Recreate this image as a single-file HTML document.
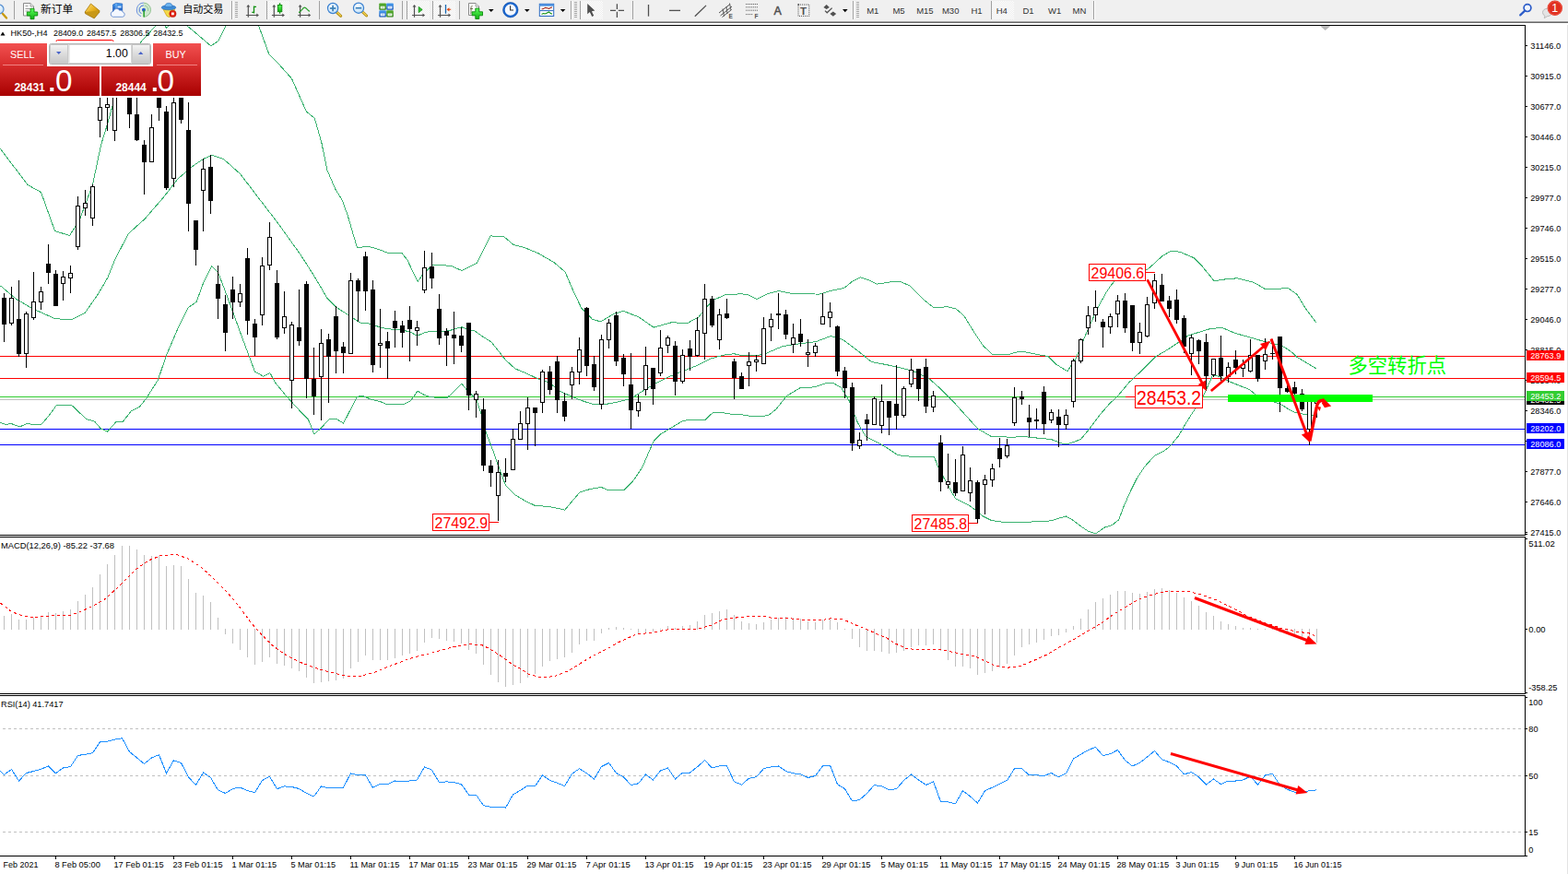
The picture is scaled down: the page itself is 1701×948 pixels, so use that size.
<!DOCTYPE html><html><head><meta charset="utf-8"><title>HK50-,H4</title><style>
html,body{margin:0;padding:0;background:#fff}body{width:1701px;height:948px;overflow:hidden;position:relative;font-family:"Liberation Sans",sans-serif}
svg{position:absolute;left:0;top:0;display:block}text{font-family:"Liberation Sans",sans-serif}
.ax{font-size:9.5px;fill:#000}.tf{font-size:9.5px;fill:#333}
.cjk{font-family:"Liberation Sans","Noto Sans CJK SC",sans-serif}
</style></head><body>
<svg width="1701" height="948" viewBox="0 0 1701 948">
<rect x="0" y="0" width="1701" height="948" fill="#fff"/>
<defs><clipPath id="cm"><rect x="0" y="28" width="1654" height="552"/></clipPath>
<clipPath id="cmacd"><rect x="0" y="583" width="1654" height="169"/></clipPath>
<clipPath id="crsi"><rect x="0" y="755" width="1654" height="172"/></clipPath></defs>
<g clip-path="url(#cm)" shape-rendering="crispEdges">
<rect x="0" y="433" width="1654" height="1" fill="#C0C0C0"/>
<rect x="0" y="430" width="1654" height="1" fill="#32CD32"/>
<rect x="0" y="386" width="1654" height="1" fill="#FF0000"/>
<rect x="0" y="410" width="1654" height="1" fill="#FF0000"/>
<rect x="0" y="465" width="1654" height="1" fill="#0000FF"/>
<rect x="0" y="482" width="1654" height="1" fill="#0000FF"/>
<polyline points="0.5,161.5 30.0,200.5 44.5,208.5 59.5,250.5 75.5,255.5 86.1,239.0 100.5,200.5 109.5,157.5 117.1,132.7 121.8,115.7 125.5,106.5 135.5,85.5 153.2,45.0 169.3,27.5" fill="none" stroke="#3CB371" stroke-width="1" />
<polyline points="178.5,27.5 180.5,30.0 183.5,27.5" fill="none" stroke="#3CB371" stroke-width="1" />
<polyline points="202.5,27.5 215.5,38.5 228.7,49.8 236.7,44.5 245.3,27.5" fill="none" stroke="#3CB371" stroke-width="1" />
<polyline points="280.5,27.5 291.8,58.7 301.3,68.2 316.5,85.3 324.1,102.4 332.5,121.3 341.2,128.0 348.8,154.5 354.9,184.4 363.8,205.1 371.1,216.9 377.0,233.1 387.4,268.5 396.2,267.7 400.5,267.7 409.4,270.0 421.2,274.5 435.9,274.5 441.8,281.8 453.1,305.5 459.5,296.5 469.9,287.2 489.1,288.3 500.9,293.5 517.2,285.4 531.9,255.9 546.7,256.7 557.0,265.5 568.8,268.5 583.5,274.5 601.3,284.8 613.1,295.1 622.0,315.8 630.9,334.5 642.5,346.2 651.5,348.9 666.3,340.3 676.5,337.4 692.9,343.9 709.1,355.1 728.3,349.8 746.0,350.4 757.9,343.9 772.5,326.1 787.4,319.5 805.1,318.8 812.3,320.0 821.2,324.5 833.0,318.5 844.8,315.5 859.5,318.5 889.1,319.1 900.9,315.5 915.7,312.5 924.5,305.3 933.4,300.8 942.3,303.8 951.1,308.2 965.9,305.9 977.7,305.9 986.5,309.7 1001.3,324.5 1013.1,333.9 1027.9,332.7 1036.8,334.8 1045.5,342.2 1057.5,361.5 1066.3,374.7 1076.5,384.5 1092.9,385.0 1101.7,382.1 1110.5,381.5 1125.4,384.5 1137.2,386.5 1146.0,395.3 1157.9,402.7 1166.7,389.5 1178.5,361.4 1190.3,334.8 1200.5,316.5 1204.5,310.5 1209.0,305.0 1212.5,300.5 1220.5,297.5 1228.5,296.5 1236.5,295.5 1244.5,292.5 1252.5,285.5 1260.5,278.0 1269.9,272.3 1280.2,273.2 1295.0,279.7 1303.9,288.5 1317.2,304.8 1330.5,302.7 1342.3,301.8 1360.0,306.3 1371.8,313.1 1383.5,313.7 1396.9,312.2 1407.2,319.5 1416.1,334.3 1427.9,350.0" fill="none" stroke="#3CB371" stroke-width="1" />
<polyline points="0.5,310.0 18.2,324.8 35.9,335.1 59.5,345.5 77.3,347.0 92.1,339.5 106.5,318.9 117.2,300.5 124.5,282.0 139.3,253.5 157.0,237.5 177.5,213.9 192.5,194.5 207.2,181.5 220.5,172.5 229.5,168.2 242.5,172.5 260.5,188.5 281.1,215.5 301.5,242.0 325.5,275.5 340.1,298.2 354.9,323.3 365.2,333.5 381.5,344.0 390.3,349.9 402.1,351.2 412.3,355.1 420.5,356.8 436.5,357.8 446.5,360.8 452.5,364.4 460.5,360.8 466.5,359.4 480.5,359.8 490.5,357.8 500.7,354.7 508.7,357.8 514.7,358.8 524.7,365.8 532.8,370.8 540.8,380.8 548.8,390.8 558.8,399.9 570.9,404.9 583.5,410.9 595.5,414.7 607.2,424.2 622.0,431.0 633.8,435.5 645.5,439.0 657.5,438.4 672.2,435.5 684.0,432.5 695.8,425.1 710.5,416.2 725.4,408.8 740.1,402.9 754.9,397.0 769.7,389.5 784.5,385.2 796.2,383.7 806.5,386.0 815.3,385.5 828.7,384.7 834.7,381.7 848.8,375.7 860.8,373.7 884.8,370.7 892.9,367.7 900.9,364.7 906.9,365.7 914.9,368.7 926.9,377.7 937.0,385.7 945.2,392.4 960.0,395.3 974.7,398.3 989.5,402.1 1007.2,410.1 1019.0,420.5 1033.8,435.2 1048.5,451.5 1060.4,464.7 1075.2,473.5 1098.8,474.2 1110.5,473.5 1125.4,475.1 1140.1,476.5 1151.9,481.0 1157.9,481.9 1172.5,476.5 1180.5,466.9 1193.8,449.2 1202.5,439.2 1213.7,428.1 1224.8,414.8 1238.1,402.5 1253.5,387.1 1264.5,380.5 1274.3,374.2 1289.1,363.9 1303.5,359.5 1314.2,356.2 1326.5,355.7 1339.8,361.4 1356.9,366.2 1373.0,370.9 1385.4,373.7 1391.1,375.2 1400.5,381.3 1407.2,387.5 1427.9,399.9" fill="none" stroke="#3CB371" stroke-width="1" />
<polyline points="0.5,458.5 6.5,460.5 12.3,459.5 21.2,463.0 28.5,459.8 44.8,460.5 53.5,450.3 61.0,440.0 77.3,439.1 93.5,454.5 102.5,457.1 109.5,465.1 116.5,468.0 126.0,457.5 133.5,457.1 142.3,445.9 151.1,441.5 158.5,432.5 171.5,411.9 180.5,385.3 192.5,357.3 204.3,333.5 213.1,327.5 220.5,307.1 229.5,288.8 236.5,295.3 245.5,318.9 260.5,360.2 276.5,403.1 285.5,408.1 292.9,404.5 298.5,414.9 310.5,429.5 325.5,445.9 334.2,454.5 341.0,471.0 349.0,463.5 357.5,454.5 365.2,454.5 372.5,459.2 387.5,430.2 393.3,429.5 402.1,433.1 412.3,435.5 419.0,438.5 437.5,438.5 444.9,435.3 453.1,424.2 459.5,428.0 464.7,429.9 474.5,431.5 485.5,431.1 494.3,423.0 500.9,416.2 506.8,423.5 516.5,432.8 521.5,447.5 527.5,469.9 535.1,489.5 541.2,506.9 548.5,526.5 558.5,536.5 568.5,542.7 580.5,548.5 595.5,549.4 612.8,553.1 620.3,544.0 628.9,534.1 640.0,530.5 652.4,528.5 659.5,531.5 677.0,531.5 686.9,521.5 696.8,506.9 704.2,489.5 709.1,478.5 716.5,471.1 726.5,464.9 741.2,456.3 753.5,455.1 764.7,455.8 773.3,447.5 783.2,447.5 795.5,449.5 800.5,449.1 815.3,451.5 833.0,450.9 841.8,444.1 853.5,429.3 868.5,420.5 883.2,419.9 895.0,416.0 903.9,415.5 912.7,420.5 921.5,435.2 930.5,458.8 939.3,473.5 954.1,481.0 960.5,484.7 973.2,493.2 981.7,494.9 1013.5,495.7 1017.5,505.9 1024.0,518.5 1030.5,530.2 1036.5,540.8 1051.5,548.2 1060.0,554.5 1066.3,559.9 1074.8,564.1 1083.3,565.8 1098.1,566.8 1112.9,566.2 1136.2,565.5 1142.5,564.1 1156.3,559.9 1163.7,564.1 1172.1,570.5 1180.5,576.2 1188.5,578.9 1193.3,575.7 1198.5,571.9 1206.0,569.8 1213.5,564.1 1218.7,550.3 1225.1,535.5 1233.5,518.5 1242.0,505.9 1252.5,494.3 1263.1,489.0 1269.1,484.2 1278.0,473.5 1284.5,462.5 1291.2,451.4 1297.9,441.4 1304.5,431.5 1310.1,419.3 1315.5,407.1 1322.2,408.2 1333.3,413.7 1344.4,418.2 1355.5,422.5 1362.1,428.1 1375.5,433.5 1390.9,439.2 1395.5,442.5 1404.8,447.5 1418.3,449.9 1423.7,450.7 1427.5,448.5" fill="none" stroke="#3CB371" stroke-width="1" />
<rect x="4" y="318" width="1" height="53" fill="#000"/>
<rect x="2" y="323" width="5" height="29" fill="#000"/>
<rect x="12" y="311" width="1" height="42" fill="#000"/>
<rect x="10" y="323" width="5" height="28" fill="#000"/>
<rect x="11" y="324" width="3" height="26" fill="#fff"/>
<rect x="20" y="304" width="1" height="83" fill="#000"/>
<rect x="18" y="346" width="5" height="38" fill="#000"/>
<rect x="28" y="338" width="1" height="61" fill="#000"/>
<rect x="26" y="340" width="5" height="44" fill="#000"/>
<rect x="27" y="341" width="3" height="42" fill="#fff"/>
<rect x="36" y="295" width="1" height="52" fill="#000"/>
<rect x="34" y="327" width="5" height="18" fill="#000"/>
<rect x="35" y="328" width="3" height="16" fill="#fff"/>
<rect x="44" y="311" width="1" height="25" fill="#000"/>
<rect x="42" y="316" width="5" height="12" fill="#000"/>
<rect x="43" y="317" width="3" height="10" fill="#fff"/>
<rect x="52" y="265" width="1" height="43" fill="#000"/>
<rect x="50" y="286" width="5" height="10" fill="#000"/>
<rect x="60" y="293" width="1" height="39" fill="#000"/>
<rect x="58" y="297" width="5" height="35" fill="#000"/>
<rect x="68" y="294" width="1" height="32" fill="#000"/>
<rect x="66" y="300" width="5" height="8" fill="#000"/>
<rect x="67" y="301" width="3" height="6" fill="#fff"/>
<rect x="76" y="288" width="1" height="30" fill="#000"/>
<rect x="74" y="296" width="5" height="6" fill="#000"/>
<rect x="75" y="297" width="3" height="4" fill="#fff"/>
<rect x="84" y="213" width="1" height="58" fill="#000"/>
<rect x="82" y="223" width="5" height="45" fill="#000"/>
<rect x="83" y="224" width="3" height="43" fill="#fff"/>
<rect x="92" y="206" width="1" height="28" fill="#000"/>
<rect x="90" y="220" width="5" height="6" fill="#000"/>
<rect x="91" y="221" width="3" height="4" fill="#fff"/>
<rect x="100" y="200" width="1" height="45" fill="#000"/>
<rect x="98" y="202" width="5" height="35" fill="#000"/>
<rect x="99" y="203" width="3" height="33" fill="#fff"/>
<rect x="108" y="100" width="1" height="49" fill="#000"/>
<rect x="106" y="116" width="5" height="15" fill="#000"/>
<rect x="107" y="117" width="3" height="13" fill="#fff"/>
<rect x="116" y="100" width="1" height="42" fill="#000"/>
<rect x="114" y="113" width="5" height="4" fill="#000"/>
<rect x="115" y="114" width="3" height="2" fill="#fff"/>
<rect x="124" y="90" width="1" height="63" fill="#000"/>
<rect x="122" y="95" width="5" height="47" fill="#000"/>
<rect x="123" y="96" width="3" height="45" fill="#fff"/>
<rect x="132" y="70" width="1" height="33" fill="#000"/>
<rect x="130" y="75" width="5" height="24" fill="#000"/>
<rect x="131" y="76" width="3" height="22" fill="#fff"/>
<rect x="140" y="80" width="1" height="59" fill="#000"/>
<rect x="138" y="85" width="5" height="39" fill="#000"/>
<rect x="148" y="100" width="1" height="53" fill="#000"/>
<rect x="146" y="124" width="5" height="28" fill="#000"/>
<rect x="156" y="152" width="1" height="59" fill="#000"/>
<rect x="154" y="157" width="5" height="19" fill="#000"/>
<rect x="164" y="124" width="1" height="52" fill="#000"/>
<rect x="162" y="138" width="5" height="38" fill="#000"/>
<rect x="163" y="139" width="3" height="36" fill="#fff"/>
<rect x="172" y="85" width="1" height="46" fill="#000"/>
<rect x="170" y="90" width="5" height="27" fill="#000"/>
<rect x="180" y="115" width="1" height="91" fill="#000"/>
<rect x="178" y="121" width="5" height="83" fill="#000"/>
<rect x="188" y="100" width="1" height="103" fill="#000"/>
<rect x="186" y="111" width="5" height="83" fill="#000"/>
<rect x="187" y="112" width="3" height="81" fill="#fff"/>
<rect x="196" y="85" width="1" height="49" fill="#000"/>
<rect x="194" y="90" width="5" height="40" fill="#000"/>
<rect x="204" y="111" width="1" height="140" fill="#000"/>
<rect x="202" y="141" width="5" height="80" fill="#000"/>
<rect x="212" y="239" width="1" height="49" fill="#000"/>
<rect x="210" y="239" width="5" height="32" fill="#000"/>
<rect x="220" y="172" width="1" height="79" fill="#000"/>
<rect x="218" y="183" width="5" height="24" fill="#000"/>
<rect x="219" y="184" width="3" height="22" fill="#fff"/>
<rect x="228" y="168" width="1" height="64" fill="#000"/>
<rect x="226" y="181" width="5" height="37" fill="#000"/>
<rect x="236" y="288" width="1" height="58" fill="#000"/>
<rect x="234" y="308" width="5" height="16" fill="#000"/>
<rect x="244" y="320" width="1" height="61" fill="#000"/>
<rect x="242" y="330" width="5" height="31" fill="#000"/>
<rect x="252" y="300" width="1" height="46" fill="#000"/>
<rect x="250" y="314" width="5" height="14" fill="#000"/>
<rect x="260" y="308" width="1" height="25" fill="#000"/>
<rect x="258" y="318" width="5" height="10" fill="#000"/>
<rect x="259" y="319" width="3" height="8" fill="#fff"/>
<rect x="268" y="269" width="1" height="94" fill="#000"/>
<rect x="266" y="280" width="5" height="68" fill="#000"/>
<rect x="276" y="346" width="1" height="40" fill="#000"/>
<rect x="274" y="351" width="5" height="15" fill="#000"/>
<rect x="284" y="279" width="1" height="74" fill="#000"/>
<rect x="282" y="288" width="5" height="54" fill="#000"/>
<rect x="283" y="289" width="3" height="52" fill="#fff"/>
<rect x="292" y="241" width="1" height="52" fill="#000"/>
<rect x="290" y="257" width="5" height="31" fill="#000"/>
<rect x="291" y="258" width="3" height="29" fill="#fff"/>
<rect x="300" y="293" width="1" height="75" fill="#000"/>
<rect x="298" y="307" width="5" height="59" fill="#000"/>
<rect x="308" y="316" width="1" height="46" fill="#000"/>
<rect x="306" y="343" width="5" height="13" fill="#000"/>
<rect x="307" y="344" width="3" height="11" fill="#fff"/>
<rect x="316" y="349" width="1" height="94" fill="#000"/>
<rect x="314" y="352" width="5" height="61" fill="#000"/>
<rect x="315" y="353" width="3" height="59" fill="#fff"/>
<rect x="324" y="314" width="1" height="61" fill="#000"/>
<rect x="322" y="355" width="5" height="15" fill="#000"/>
<rect x="332" y="305" width="1" height="127" fill="#000"/>
<rect x="330" y="308" width="5" height="103" fill="#000"/>
<rect x="340" y="377" width="1" height="73" fill="#000"/>
<rect x="338" y="411" width="5" height="19" fill="#000"/>
<rect x="348" y="357" width="1" height="99" fill="#000"/>
<rect x="346" y="372" width="5" height="37" fill="#000"/>
<rect x="347" y="373" width="3" height="35" fill="#fff"/>
<rect x="356" y="362" width="1" height="75" fill="#000"/>
<rect x="354" y="368" width="5" height="19" fill="#000"/>
<rect x="364" y="332" width="1" height="73" fill="#000"/>
<rect x="362" y="343" width="5" height="38" fill="#000"/>
<rect x="372" y="371" width="1" height="34" fill="#000"/>
<rect x="370" y="376" width="5" height="7" fill="#000"/>
<rect x="380" y="296" width="1" height="88" fill="#000"/>
<rect x="378" y="304" width="5" height="80" fill="#000"/>
<rect x="379" y="305" width="3" height="78" fill="#fff"/>
<rect x="388" y="302" width="1" height="47" fill="#000"/>
<rect x="386" y="304" width="5" height="12" fill="#000"/>
<rect x="396" y="273" width="1" height="64" fill="#000"/>
<rect x="394" y="278" width="5" height="38" fill="#000"/>
<rect x="404" y="304" width="1" height="100" fill="#000"/>
<rect x="402" y="314" width="5" height="82" fill="#000"/>
<rect x="412" y="335" width="1" height="64" fill="#000"/>
<rect x="410" y="372" width="5" height="3" fill="#000"/>
<rect x="411" y="373" width="3" height="1" fill="#fff"/>
<rect x="420" y="360" width="1" height="51" fill="#000"/>
<rect x="418" y="370" width="5" height="8" fill="#000"/>
<rect x="428" y="337" width="1" height="40" fill="#000"/>
<rect x="426" y="348" width="5" height="8" fill="#000"/>
<rect x="436" y="348" width="1" height="29" fill="#000"/>
<rect x="434" y="353" width="5" height="8" fill="#000"/>
<rect x="444" y="332" width="1" height="60" fill="#000"/>
<rect x="442" y="347" width="5" height="10" fill="#000"/>
<rect x="452" y="348" width="1" height="27" fill="#000"/>
<rect x="450" y="355" width="5" height="4" fill="#000"/>
<rect x="451" y="356" width="3" height="2" fill="#fff"/>
<rect x="460" y="272" width="1" height="46" fill="#000"/>
<rect x="458" y="290" width="5" height="25" fill="#000"/>
<rect x="459" y="291" width="3" height="23" fill="#fff"/>
<rect x="468" y="274" width="1" height="39" fill="#000"/>
<rect x="466" y="289" width="5" height="13" fill="#000"/>
<rect x="476" y="319" width="1" height="55" fill="#000"/>
<rect x="474" y="335" width="5" height="32" fill="#000"/>
<rect x="484" y="356" width="1" height="41" fill="#000"/>
<rect x="482" y="359" width="5" height="5" fill="#000"/>
<rect x="492" y="338" width="1" height="57" fill="#000"/>
<rect x="490" y="363" width="5" height="4" fill="#000"/>
<rect x="500" y="355" width="1" height="27" fill="#000"/>
<rect x="498" y="364" width="5" height="11" fill="#000"/>
<rect x="508" y="350" width="1" height="95" fill="#000"/>
<rect x="506" y="350" width="5" height="79" fill="#000"/>
<rect x="516" y="424" width="1" height="29" fill="#000"/>
<rect x="514" y="427" width="5" height="7" fill="#000"/>
<rect x="515" y="428" width="3" height="5" fill="#fff"/>
<rect x="524" y="432" width="1" height="79" fill="#000"/>
<rect x="522" y="444" width="5" height="61" fill="#000"/>
<rect x="532" y="499" width="1" height="29" fill="#000"/>
<rect x="530" y="505" width="5" height="8" fill="#000"/>
<rect x="540" y="499" width="1" height="66" fill="#000"/>
<rect x="538" y="512" width="5" height="26" fill="#000"/>
<rect x="539" y="513" width="3" height="24" fill="#fff"/>
<rect x="548" y="497" width="1" height="26" fill="#000"/>
<rect x="546" y="513" width="5" height="4" fill="#000"/>
<rect x="556" y="465" width="1" height="45" fill="#000"/>
<rect x="554" y="476" width="5" height="34" fill="#000"/>
<rect x="555" y="477" width="3" height="32" fill="#fff"/>
<rect x="564" y="446" width="1" height="31" fill="#000"/>
<rect x="562" y="459" width="5" height="18" fill="#000"/>
<rect x="563" y="460" width="3" height="16" fill="#fff"/>
<rect x="572" y="431" width="1" height="57" fill="#000"/>
<rect x="570" y="442" width="5" height="18" fill="#000"/>
<rect x="571" y="443" width="3" height="16" fill="#fff"/>
<rect x="580" y="442" width="1" height="42" fill="#000"/>
<rect x="578" y="442" width="5" height="6" fill="#000"/>
<rect x="588" y="401" width="1" height="47" fill="#000"/>
<rect x="586" y="403" width="5" height="34" fill="#000"/>
<rect x="587" y="404" width="3" height="32" fill="#fff"/>
<rect x="596" y="397" width="1" height="31" fill="#000"/>
<rect x="594" y="403" width="5" height="20" fill="#000"/>
<rect x="604" y="386" width="1" height="62" fill="#000"/>
<rect x="602" y="392" width="5" height="42" fill="#000"/>
<rect x="612" y="426" width="1" height="31" fill="#000"/>
<rect x="610" y="435" width="5" height="17" fill="#000"/>
<rect x="620" y="398" width="1" height="35" fill="#000"/>
<rect x="618" y="403" width="5" height="15" fill="#000"/>
<rect x="619" y="404" width="3" height="13" fill="#fff"/>
<rect x="628" y="366" width="1" height="51" fill="#000"/>
<rect x="626" y="379" width="5" height="25" fill="#000"/>
<rect x="627" y="380" width="3" height="23" fill="#fff"/>
<rect x="636" y="333" width="1" height="75" fill="#000"/>
<rect x="634" y="334" width="5" height="63" fill="#000"/>
<rect x="644" y="386" width="1" height="38" fill="#000"/>
<rect x="642" y="395" width="5" height="25" fill="#000"/>
<rect x="652" y="363" width="1" height="81" fill="#000"/>
<rect x="650" y="368" width="5" height="71" fill="#000"/>
<rect x="651" y="369" width="3" height="69" fill="#fff"/>
<rect x="660" y="346" width="1" height="32" fill="#000"/>
<rect x="658" y="350" width="5" height="19" fill="#000"/>
<rect x="659" y="351" width="3" height="17" fill="#fff"/>
<rect x="668" y="338" width="1" height="59" fill="#000"/>
<rect x="666" y="342" width="5" height="50" fill="#000"/>
<rect x="676" y="384" width="1" height="35" fill="#000"/>
<rect x="674" y="388" width="5" height="18" fill="#000"/>
<rect x="684" y="383" width="1" height="82" fill="#000"/>
<rect x="682" y="417" width="5" height="28" fill="#000"/>
<rect x="692" y="428" width="1" height="24" fill="#000"/>
<rect x="690" y="436" width="5" height="10" fill="#000"/>
<rect x="691" y="437" width="3" height="8" fill="#fff"/>
<rect x="700" y="376" width="1" height="53" fill="#000"/>
<rect x="698" y="396" width="5" height="27" fill="#000"/>
<rect x="699" y="397" width="3" height="25" fill="#fff"/>
<rect x="708" y="399" width="1" height="40" fill="#000"/>
<rect x="706" y="399" width="5" height="23" fill="#000"/>
<rect x="716" y="358" width="1" height="50" fill="#000"/>
<rect x="714" y="377" width="5" height="28" fill="#000"/>
<rect x="715" y="378" width="3" height="26" fill="#fff"/>
<rect x="724" y="364" width="1" height="19" fill="#000"/>
<rect x="722" y="366" width="5" height="9" fill="#000"/>
<rect x="723" y="367" width="3" height="7" fill="#fff"/>
<rect x="732" y="370" width="1" height="59" fill="#000"/>
<rect x="730" y="375" width="5" height="39" fill="#000"/>
<rect x="740" y="379" width="1" height="37" fill="#000"/>
<rect x="738" y="385" width="5" height="29" fill="#000"/>
<rect x="739" y="386" width="3" height="27" fill="#fff"/>
<rect x="748" y="369" width="1" height="33" fill="#000"/>
<rect x="746" y="378" width="5" height="9" fill="#000"/>
<rect x="756" y="344" width="1" height="43" fill="#000"/>
<rect x="754" y="358" width="5" height="28" fill="#000"/>
<rect x="755" y="359" width="3" height="26" fill="#fff"/>
<rect x="764" y="308" width="1" height="82" fill="#000"/>
<rect x="762" y="324" width="5" height="38" fill="#000"/>
<rect x="763" y="325" width="3" height="36" fill="#fff"/>
<rect x="772" y="321" width="1" height="34" fill="#000"/>
<rect x="770" y="324" width="5" height="29" fill="#000"/>
<rect x="780" y="335" width="1" height="44" fill="#000"/>
<rect x="778" y="341" width="5" height="28" fill="#000"/>
<rect x="779" y="342" width="3" height="26" fill="#fff"/>
<rect x="788" y="324" width="1" height="22" fill="#000"/>
<rect x="786" y="340" width="5" height="5" fill="#000"/>
<rect x="796" y="389" width="1" height="44" fill="#000"/>
<rect x="794" y="392" width="5" height="18" fill="#000"/>
<rect x="804" y="404" width="1" height="18" fill="#000"/>
<rect x="802" y="408" width="5" height="14" fill="#000"/>
<rect x="812" y="382" width="1" height="37" fill="#000"/>
<rect x="810" y="392" width="5" height="5" fill="#000"/>
<rect x="811" y="393" width="3" height="3" fill="#fff"/>
<rect x="820" y="385" width="1" height="18" fill="#000"/>
<rect x="818" y="390" width="5" height="3" fill="#000"/>
<rect x="819" y="391" width="3" height="1" fill="#fff"/>
<rect x="828" y="344" width="1" height="51" fill="#000"/>
<rect x="826" y="356" width="5" height="39" fill="#000"/>
<rect x="827" y="357" width="3" height="37" fill="#fff"/>
<rect x="836" y="340" width="1" height="30" fill="#000"/>
<rect x="834" y="346" width="5" height="9" fill="#000"/>
<rect x="835" y="347" width="3" height="7" fill="#fff"/>
<rect x="844" y="318" width="1" height="39" fill="#000"/>
<rect x="842" y="340" width="5" height="2" fill="#000"/>
<rect x="852" y="336" width="1" height="32" fill="#000"/>
<rect x="850" y="341" width="5" height="22" fill="#000"/>
<rect x="860" y="351" width="1" height="32" fill="#000"/>
<rect x="858" y="366" width="5" height="8" fill="#000"/>
<rect x="859" y="367" width="3" height="6" fill="#fff"/>
<rect x="868" y="346" width="1" height="30" fill="#000"/>
<rect x="866" y="362" width="5" height="9" fill="#000"/>
<rect x="876" y="368" width="1" height="30" fill="#000"/>
<rect x="874" y="382" width="5" height="3" fill="#000"/>
<rect x="875" y="383" width="3" height="1" fill="#fff"/>
<rect x="884" y="372" width="1" height="15" fill="#000"/>
<rect x="882" y="375" width="5" height="8" fill="#000"/>
<rect x="883" y="376" width="3" height="6" fill="#fff"/>
<rect x="892" y="318" width="1" height="34" fill="#000"/>
<rect x="890" y="343" width="5" height="9" fill="#000"/>
<rect x="891" y="344" width="3" height="7" fill="#fff"/>
<rect x="900" y="328" width="1" height="27" fill="#000"/>
<rect x="898" y="338" width="5" height="7" fill="#000"/>
<rect x="899" y="339" width="3" height="5" fill="#fff"/>
<rect x="908" y="353" width="1" height="55" fill="#000"/>
<rect x="906" y="354" width="5" height="49" fill="#000"/>
<rect x="916" y="398" width="1" height="34" fill="#000"/>
<rect x="914" y="402" width="5" height="19" fill="#000"/>
<rect x="924" y="415" width="1" height="74" fill="#000"/>
<rect x="922" y="420" width="5" height="61" fill="#000"/>
<rect x="932" y="469" width="1" height="18" fill="#000"/>
<rect x="930" y="477" width="5" height="7" fill="#000"/>
<rect x="931" y="478" width="3" height="5" fill="#fff"/>
<rect x="940" y="449" width="1" height="29" fill="#000"/>
<rect x="938" y="455" width="5" height="5" fill="#000"/>
<rect x="948" y="430" width="1" height="31" fill="#000"/>
<rect x="946" y="432" width="5" height="29" fill="#000"/>
<rect x="947" y="433" width="3" height="27" fill="#fff"/>
<rect x="956" y="417" width="1" height="53" fill="#000"/>
<rect x="954" y="435" width="5" height="27" fill="#000"/>
<rect x="955" y="436" width="3" height="25" fill="#fff"/>
<rect x="964" y="435" width="1" height="37" fill="#000"/>
<rect x="962" y="435" width="5" height="18" fill="#000"/>
<rect x="972" y="396" width="1" height="70" fill="#000"/>
<rect x="970" y="438" width="5" height="13" fill="#000"/>
<rect x="980" y="419" width="1" height="34" fill="#000"/>
<rect x="978" y="421" width="5" height="30" fill="#000"/>
<rect x="979" y="422" width="3" height="28" fill="#fff"/>
<rect x="988" y="389" width="1" height="31" fill="#000"/>
<rect x="986" y="401" width="5" height="16" fill="#000"/>
<rect x="987" y="402" width="3" height="14" fill="#fff"/>
<rect x="996" y="400" width="1" height="35" fill="#000"/>
<rect x="994" y="400" width="5" height="22" fill="#000"/>
<rect x="1004" y="389" width="1" height="59" fill="#000"/>
<rect x="1002" y="398" width="5" height="43" fill="#000"/>
<rect x="1012" y="424" width="1" height="23" fill="#000"/>
<rect x="1010" y="429" width="5" height="13" fill="#000"/>
<rect x="1011" y="430" width="3" height="11" fill="#fff"/>
<rect x="1020" y="472" width="1" height="61" fill="#000"/>
<rect x="1018" y="480" width="5" height="43" fill="#000"/>
<rect x="1028" y="492" width="1" height="38" fill="#000"/>
<rect x="1026" y="522" width="5" height="4" fill="#000"/>
<rect x="1027" y="523" width="3" height="2" fill="#fff"/>
<rect x="1036" y="498" width="1" height="40" fill="#000"/>
<rect x="1034" y="523" width="5" height="12" fill="#000"/>
<rect x="1044" y="484" width="1" height="49" fill="#000"/>
<rect x="1042" y="493" width="5" height="40" fill="#000"/>
<rect x="1043" y="494" width="3" height="38" fill="#fff"/>
<rect x="1052" y="507" width="1" height="37" fill="#000"/>
<rect x="1050" y="521" width="5" height="14" fill="#000"/>
<rect x="1051" y="522" width="3" height="12" fill="#fff"/>
<rect x="1060" y="521" width="1" height="47" fill="#000"/>
<rect x="1058" y="523" width="5" height="40" fill="#000"/>
<rect x="1068" y="515" width="1" height="43" fill="#000"/>
<rect x="1066" y="520" width="5" height="6" fill="#000"/>
<rect x="1067" y="521" width="3" height="4" fill="#fff"/>
<rect x="1076" y="503" width="1" height="25" fill="#000"/>
<rect x="1074" y="508" width="5" height="13" fill="#000"/>
<rect x="1075" y="509" width="3" height="11" fill="#fff"/>
<rect x="1084" y="475" width="1" height="32" fill="#000"/>
<rect x="1082" y="486" width="5" height="12" fill="#000"/>
<rect x="1092" y="476" width="1" height="21" fill="#000"/>
<rect x="1090" y="483" width="5" height="12" fill="#000"/>
<rect x="1091" y="484" width="3" height="10" fill="#fff"/>
<rect x="1100" y="420" width="1" height="42" fill="#000"/>
<rect x="1098" y="431" width="5" height="28" fill="#000"/>
<rect x="1099" y="432" width="3" height="26" fill="#fff"/>
<rect x="1108" y="424" width="1" height="15" fill="#000"/>
<rect x="1106" y="430" width="5" height="3" fill="#000"/>
<rect x="1116" y="439" width="1" height="35" fill="#000"/>
<rect x="1114" y="453" width="5" height="5" fill="#000"/>
<rect x="1124" y="443" width="1" height="22" fill="#000"/>
<rect x="1122" y="455" width="5" height="2" fill="#000"/>
<rect x="1132" y="419" width="1" height="52" fill="#000"/>
<rect x="1130" y="425" width="5" height="35" fill="#000"/>
<rect x="1140" y="444" width="1" height="15" fill="#000"/>
<rect x="1138" y="447" width="5" height="9" fill="#000"/>
<rect x="1139" y="448" width="3" height="7" fill="#fff"/>
<rect x="1148" y="444" width="1" height="41" fill="#000"/>
<rect x="1146" y="452" width="5" height="9" fill="#000"/>
<rect x="1156" y="444" width="1" height="22" fill="#000"/>
<rect x="1154" y="450" width="5" height="11" fill="#000"/>
<rect x="1155" y="451" width="3" height="9" fill="#fff"/>
<rect x="1164" y="389" width="1" height="53" fill="#000"/>
<rect x="1162" y="391" width="5" height="45" fill="#000"/>
<rect x="1163" y="392" width="3" height="43" fill="#fff"/>
<rect x="1172" y="367" width="1" height="27" fill="#000"/>
<rect x="1170" y="368" width="5" height="24" fill="#000"/>
<rect x="1171" y="369" width="3" height="22" fill="#fff"/>
<rect x="1180" y="332" width="1" height="31" fill="#000"/>
<rect x="1178" y="342" width="5" height="14" fill="#000"/>
<rect x="1179" y="343" width="3" height="12" fill="#fff"/>
<rect x="1188" y="315" width="1" height="34" fill="#000"/>
<rect x="1186" y="333" width="5" height="9" fill="#000"/>
<rect x="1187" y="334" width="3" height="7" fill="#fff"/>
<rect x="1196" y="346" width="1" height="31" fill="#000"/>
<rect x="1194" y="349" width="5" height="6" fill="#000"/>
<rect x="1204" y="340" width="1" height="22" fill="#000"/>
<rect x="1202" y="343" width="5" height="12" fill="#000"/>
<rect x="1203" y="344" width="3" height="10" fill="#fff"/>
<rect x="1212" y="320" width="1" height="35" fill="#000"/>
<rect x="1210" y="326" width="5" height="15" fill="#000"/>
<rect x="1211" y="327" width="3" height="13" fill="#fff"/>
<rect x="1220" y="318" width="1" height="43" fill="#000"/>
<rect x="1218" y="326" width="5" height="30" fill="#000"/>
<rect x="1228" y="331" width="1" height="50" fill="#000"/>
<rect x="1226" y="331" width="5" height="41" fill="#000"/>
<rect x="1236" y="350" width="1" height="34" fill="#000"/>
<rect x="1234" y="360" width="5" height="12" fill="#000"/>
<rect x="1235" y="361" width="3" height="10" fill="#fff"/>
<rect x="1244" y="322" width="1" height="44" fill="#000"/>
<rect x="1242" y="330" width="5" height="35" fill="#000"/>
<rect x="1243" y="331" width="3" height="33" fill="#fff"/>
<rect x="1252" y="297" width="1" height="38" fill="#000"/>
<rect x="1250" y="304" width="5" height="25" fill="#000"/>
<rect x="1251" y="305" width="3" height="23" fill="#fff"/>
<rect x="1260" y="297" width="1" height="30" fill="#000"/>
<rect x="1258" y="309" width="5" height="18" fill="#000"/>
<rect x="1268" y="321" width="1" height="23" fill="#000"/>
<rect x="1266" y="326" width="5" height="9" fill="#000"/>
<rect x="1276" y="314" width="1" height="37" fill="#000"/>
<rect x="1274" y="325" width="5" height="22" fill="#000"/>
<rect x="1284" y="342" width="1" height="41" fill="#000"/>
<rect x="1282" y="345" width="5" height="31" fill="#000"/>
<rect x="1292" y="363" width="1" height="44" fill="#000"/>
<rect x="1290" y="366" width="5" height="18" fill="#000"/>
<rect x="1291" y="367" width="3" height="16" fill="#fff"/>
<rect x="1300" y="368" width="1" height="27" fill="#000"/>
<rect x="1298" y="369" width="5" height="12" fill="#000"/>
<rect x="1308" y="362" width="1" height="62" fill="#000"/>
<rect x="1306" y="371" width="5" height="37" fill="#000"/>
<rect x="1316" y="389" width="1" height="20" fill="#000"/>
<rect x="1314" y="389" width="5" height="18" fill="#000"/>
<rect x="1315" y="390" width="3" height="16" fill="#fff"/>
<rect x="1324" y="364" width="1" height="49" fill="#000"/>
<rect x="1322" y="388" width="5" height="20" fill="#000"/>
<rect x="1332" y="393" width="1" height="22" fill="#000"/>
<rect x="1330" y="398" width="5" height="11" fill="#000"/>
<rect x="1331" y="399" width="3" height="9" fill="#fff"/>
<rect x="1340" y="380" width="1" height="26" fill="#000"/>
<rect x="1338" y="390" width="5" height="9" fill="#000"/>
<rect x="1348" y="390" width="1" height="19" fill="#000"/>
<rect x="1346" y="395" width="5" height="5" fill="#000"/>
<rect x="1347" y="396" width="3" height="3" fill="#fff"/>
<rect x="1356" y="368" width="1" height="36" fill="#000"/>
<rect x="1354" y="385" width="5" height="18" fill="#000"/>
<rect x="1355" y="386" width="3" height="16" fill="#fff"/>
<rect x="1364" y="385" width="1" height="29" fill="#000"/>
<rect x="1362" y="385" width="5" height="26" fill="#000"/>
<rect x="1372" y="367" width="1" height="34" fill="#000"/>
<rect x="1370" y="384" width="5" height="8" fill="#000"/>
<rect x="1371" y="385" width="3" height="6" fill="#fff"/>
<rect x="1380" y="368" width="1" height="22" fill="#000"/>
<rect x="1378" y="383" width="5" height="1" fill="#000"/>
<rect x="1388" y="365" width="1" height="82" fill="#000"/>
<rect x="1386" y="365" width="5" height="56" fill="#000"/>
<rect x="1396" y="416" width="1" height="10" fill="#000"/>
<rect x="1394" y="421" width="5" height="4" fill="#000"/>
<rect x="1404" y="414" width="1" height="16" fill="#000"/>
<rect x="1402" y="420" width="5" height="7" fill="#000"/>
<rect x="1412" y="422" width="1" height="24" fill="#000"/>
<rect x="1410" y="427" width="5" height="17" fill="#000"/>
<rect x="1420" y="434" width="1" height="49" fill="#000"/>
<rect x="1418" y="435" width="5" height="31" fill="#000"/>
<rect x="1419" y="436" width="3" height="29" fill="#fff"/>
<rect x="1428" y="430" width="1" height="23" fill="#000"/>
<rect x="1426" y="434" width="5" height="4" fill="#000"/>
<rect x="1427" y="435" width="3" height="2" fill="#fff"/>
</g>
<g clip-path="url(#cmacd)" shape-rendering="crispEdges">
<rect x="4" y="668" width="1" height="15" fill="#C0C0C0"/>
<rect x="12" y="666" width="1" height="17" fill="#C0C0C0"/>
<rect x="20" y="672" width="1" height="11" fill="#C0C0C0"/>
<rect x="28" y="672" width="1" height="11" fill="#C0C0C0"/>
<rect x="36" y="670" width="1" height="13" fill="#C0C0C0"/>
<rect x="44" y="668" width="1" height="15" fill="#C0C0C0"/>
<rect x="52" y="664" width="1" height="19" fill="#C0C0C0"/>
<rect x="60" y="665" width="1" height="18" fill="#C0C0C0"/>
<rect x="68" y="663" width="1" height="20" fill="#C0C0C0"/>
<rect x="76" y="661" width="1" height="22" fill="#C0C0C0"/>
<rect x="84" y="652" width="1" height="31" fill="#C0C0C0"/>
<rect x="92" y="645" width="1" height="38" fill="#C0C0C0"/>
<rect x="100" y="637" width="1" height="46" fill="#C0C0C0"/>
<rect x="108" y="623" width="1" height="60" fill="#C0C0C0"/>
<rect x="116" y="612" width="1" height="71" fill="#C0C0C0"/>
<rect x="124" y="602" width="1" height="81" fill="#C0C0C0"/>
<rect x="132" y="592" width="1" height="91" fill="#C0C0C0"/>
<rect x="140" y="592" width="1" height="91" fill="#C0C0C0"/>
<rect x="148" y="596" width="1" height="87" fill="#C0C0C0"/>
<rect x="156" y="602" width="1" height="81" fill="#C0C0C0"/>
<rect x="164" y="603" width="1" height="80" fill="#C0C0C0"/>
<rect x="172" y="603" width="1" height="80" fill="#C0C0C0"/>
<rect x="180" y="614" width="1" height="69" fill="#C0C0C0"/>
<rect x="188" y="613" width="1" height="70" fill="#C0C0C0"/>
<rect x="196" y="614" width="1" height="69" fill="#C0C0C0"/>
<rect x="204" y="628" width="1" height="55" fill="#C0C0C0"/>
<rect x="212" y="643" width="1" height="40" fill="#C0C0C0"/>
<rect x="220" y="646" width="1" height="37" fill="#C0C0C0"/>
<rect x="228" y="653" width="1" height="30" fill="#C0C0C0"/>
<rect x="236" y="670" width="1" height="13" fill="#C0C0C0"/>
<rect x="244" y="682" width="1" height="6" fill="#C0C0C0"/>
<rect x="252" y="682" width="1" height="16" fill="#C0C0C0"/>
<rect x="260" y="682" width="1" height="23" fill="#C0C0C0"/>
<rect x="268" y="682" width="1" height="31" fill="#C0C0C0"/>
<rect x="276" y="682" width="1" height="39" fill="#C0C0C0"/>
<rect x="284" y="682" width="1" height="36" fill="#C0C0C0"/>
<rect x="292" y="682" width="1" height="31" fill="#C0C0C0"/>
<rect x="300" y="682" width="1" height="38" fill="#C0C0C0"/>
<rect x="308" y="682" width="1" height="40" fill="#C0C0C0"/>
<rect x="316" y="682" width="1" height="43" fill="#C0C0C0"/>
<rect x="324" y="682" width="1" height="46" fill="#C0C0C0"/>
<rect x="332" y="682" width="1" height="53" fill="#C0C0C0"/>
<rect x="340" y="682" width="1" height="59" fill="#C0C0C0"/>
<rect x="348" y="682" width="1" height="58" fill="#C0C0C0"/>
<rect x="356" y="682" width="1" height="57" fill="#C0C0C0"/>
<rect x="364" y="682" width="1" height="56" fill="#C0C0C0"/>
<rect x="372" y="682" width="1" height="54" fill="#C0C0C0"/>
<rect x="380" y="682" width="1" height="43" fill="#C0C0C0"/>
<rect x="388" y="682" width="1" height="36" fill="#C0C0C0"/>
<rect x="396" y="682" width="1" height="29" fill="#C0C0C0"/>
<rect x="404" y="682" width="1" height="34" fill="#C0C0C0"/>
<rect x="412" y="682" width="1" height="34" fill="#C0C0C0"/>
<rect x="420" y="682" width="1" height="34" fill="#C0C0C0"/>
<rect x="428" y="682" width="1" height="32" fill="#C0C0C0"/>
<rect x="436" y="682" width="1" height="29" fill="#C0C0C0"/>
<rect x="444" y="682" width="1" height="27" fill="#C0C0C0"/>
<rect x="452" y="682" width="1" height="24" fill="#C0C0C0"/>
<rect x="460" y="682" width="1" height="15" fill="#C0C0C0"/>
<rect x="468" y="682" width="1" height="10" fill="#C0C0C0"/>
<rect x="476" y="682" width="1" height="11" fill="#C0C0C0"/>
<rect x="484" y="682" width="1" height="13" fill="#C0C0C0"/>
<rect x="492" y="682" width="1" height="14" fill="#C0C0C0"/>
<rect x="500" y="682" width="1" height="16" fill="#C0C0C0"/>
<rect x="508" y="682" width="1" height="23" fill="#C0C0C0"/>
<rect x="516" y="682" width="1" height="27" fill="#C0C0C0"/>
<rect x="524" y="682" width="1" height="39" fill="#C0C0C0"/>
<rect x="532" y="682" width="1" height="50" fill="#C0C0C0"/>
<rect x="540" y="682" width="1" height="58" fill="#C0C0C0"/>
<rect x="548" y="682" width="1" height="63" fill="#C0C0C0"/>
<rect x="556" y="682" width="1" height="61" fill="#C0C0C0"/>
<rect x="564" y="682" width="1" height="59" fill="#C0C0C0"/>
<rect x="572" y="682" width="1" height="53" fill="#C0C0C0"/>
<rect x="580" y="682" width="1" height="49" fill="#C0C0C0"/>
<rect x="588" y="682" width="1" height="41" fill="#C0C0C0"/>
<rect x="596" y="682" width="1" height="35" fill="#C0C0C0"/>
<rect x="604" y="682" width="1" height="33" fill="#C0C0C0"/>
<rect x="612" y="682" width="1" height="31" fill="#C0C0C0"/>
<rect x="620" y="682" width="1" height="26" fill="#C0C0C0"/>
<rect x="628" y="682" width="1" height="17" fill="#C0C0C0"/>
<rect x="636" y="682" width="1" height="13" fill="#C0C0C0"/>
<rect x="644" y="682" width="1" height="13" fill="#C0C0C0"/>
<rect x="652" y="682" width="1" height="5" fill="#C0C0C0"/>
<rect x="660" y="681" width="1" height="2" fill="#C0C0C0"/>
<rect x="668" y="680" width="1" height="3" fill="#C0C0C0"/>
<rect x="676" y="681" width="1" height="2" fill="#C0C0C0"/>
<rect x="684" y="682" width="1" height="1" fill="#C0C0C0"/>
<rect x="692" y="682" width="1" height="5" fill="#C0C0C0"/>
<rect x="700" y="682" width="1" height="4" fill="#C0C0C0"/>
<rect x="708" y="682" width="1" height="3" fill="#C0C0C0"/>
<rect x="716" y="682" width="1" height="1" fill="#C0C0C0"/>
<rect x="724" y="679" width="1" height="4" fill="#C0C0C0"/>
<rect x="732" y="681" width="1" height="2" fill="#C0C0C0"/>
<rect x="740" y="679" width="1" height="4" fill="#C0C0C0"/>
<rect x="748" y="678" width="1" height="5" fill="#C0C0C0"/>
<rect x="756" y="674" width="1" height="9" fill="#C0C0C0"/>
<rect x="764" y="667" width="1" height="16" fill="#C0C0C0"/>
<rect x="772" y="665" width="1" height="18" fill="#C0C0C0"/>
<rect x="780" y="663" width="1" height="20" fill="#C0C0C0"/>
<rect x="788" y="661" width="1" height="22" fill="#C0C0C0"/>
<rect x="796" y="667" width="1" height="16" fill="#C0C0C0"/>
<rect x="804" y="674" width="1" height="9" fill="#C0C0C0"/>
<rect x="812" y="676" width="1" height="7" fill="#C0C0C0"/>
<rect x="820" y="677" width="1" height="6" fill="#C0C0C0"/>
<rect x="828" y="675" width="1" height="8" fill="#C0C0C0"/>
<rect x="836" y="672" width="1" height="11" fill="#C0C0C0"/>
<rect x="844" y="670" width="1" height="13" fill="#C0C0C0"/>
<rect x="852" y="669" width="1" height="14" fill="#C0C0C0"/>
<rect x="860" y="670" width="1" height="13" fill="#C0C0C0"/>
<rect x="868" y="671" width="1" height="12" fill="#C0C0C0"/>
<rect x="876" y="674" width="1" height="9" fill="#C0C0C0"/>
<rect x="884" y="675" width="1" height="8" fill="#C0C0C0"/>
<rect x="892" y="672" width="1" height="11" fill="#C0C0C0"/>
<rect x="900" y="670" width="1" height="13" fill="#C0C0C0"/>
<rect x="908" y="675" width="1" height="8" fill="#C0C0C0"/>
<rect x="916" y="682" width="1" height="1" fill="#C0C0C0"/>
<rect x="924" y="682" width="1" height="11" fill="#C0C0C0"/>
<rect x="932" y="682" width="1" height="20" fill="#C0C0C0"/>
<rect x="940" y="682" width="1" height="24" fill="#C0C0C0"/>
<rect x="948" y="682" width="1" height="24" fill="#C0C0C0"/>
<rect x="956" y="682" width="1" height="25" fill="#C0C0C0"/>
<rect x="964" y="682" width="1" height="27" fill="#C0C0C0"/>
<rect x="972" y="682" width="1" height="26" fill="#C0C0C0"/>
<rect x="980" y="682" width="1" height="24" fill="#C0C0C0"/>
<rect x="988" y="682" width="1" height="20" fill="#C0C0C0"/>
<rect x="996" y="682" width="1" height="18" fill="#C0C0C0"/>
<rect x="1004" y="682" width="1" height="18" fill="#C0C0C0"/>
<rect x="1012" y="682" width="1" height="17" fill="#C0C0C0"/>
<rect x="1020" y="682" width="1" height="24" fill="#C0C0C0"/>
<rect x="1028" y="682" width="1" height="34" fill="#C0C0C0"/>
<rect x="1036" y="682" width="1" height="41" fill="#C0C0C0"/>
<rect x="1044" y="682" width="1" height="41" fill="#C0C0C0"/>
<rect x="1052" y="682" width="1" height="43" fill="#C0C0C0"/>
<rect x="1060" y="682" width="1" height="50" fill="#C0C0C0"/>
<rect x="1068" y="682" width="1" height="48" fill="#C0C0C0"/>
<rect x="1076" y="682" width="1" height="46" fill="#C0C0C0"/>
<rect x="1084" y="682" width="1" height="42" fill="#C0C0C0"/>
<rect x="1092" y="682" width="1" height="38" fill="#C0C0C0"/>
<rect x="1100" y="682" width="1" height="29" fill="#C0C0C0"/>
<rect x="1108" y="682" width="1" height="20" fill="#C0C0C0"/>
<rect x="1116" y="682" width="1" height="17" fill="#C0C0C0"/>
<rect x="1124" y="682" width="1" height="15" fill="#C0C0C0"/>
<rect x="1132" y="682" width="1" height="12" fill="#C0C0C0"/>
<rect x="1140" y="682" width="1" height="8" fill="#C0C0C0"/>
<rect x="1148" y="682" width="1" height="7" fill="#C0C0C0"/>
<rect x="1156" y="682" width="1" height="4" fill="#C0C0C0"/>
<rect x="1164" y="679" width="1" height="4" fill="#C0C0C0"/>
<rect x="1172" y="671" width="1" height="12" fill="#C0C0C0"/>
<rect x="1180" y="661" width="1" height="22" fill="#C0C0C0"/>
<rect x="1188" y="653" width="1" height="30" fill="#C0C0C0"/>
<rect x="1196" y="649" width="1" height="34" fill="#C0C0C0"/>
<rect x="1204" y="645" width="1" height="38" fill="#C0C0C0"/>
<rect x="1212" y="641" width="1" height="42" fill="#C0C0C0"/>
<rect x="1220" y="641" width="1" height="42" fill="#C0C0C0"/>
<rect x="1228" y="643" width="1" height="40" fill="#C0C0C0"/>
<rect x="1236" y="644" width="1" height="39" fill="#C0C0C0"/>
<rect x="1244" y="642" width="1" height="41" fill="#C0C0C0"/>
<rect x="1252" y="639" width="1" height="44" fill="#C0C0C0"/>
<rect x="1260" y="638" width="1" height="45" fill="#C0C0C0"/>
<rect x="1268" y="640" width="1" height="43" fill="#C0C0C0"/>
<rect x="1276" y="643" width="1" height="40" fill="#C0C0C0"/>
<rect x="1284" y="648" width="1" height="35" fill="#C0C0C0"/>
<rect x="1292" y="652" width="1" height="31" fill="#C0C0C0"/>
<rect x="1300" y="657" width="1" height="26" fill="#C0C0C0"/>
<rect x="1308" y="664" width="1" height="19" fill="#C0C0C0"/>
<rect x="1316" y="668" width="1" height="15" fill="#C0C0C0"/>
<rect x="1324" y="674" width="1" height="9" fill="#C0C0C0"/>
<rect x="1332" y="677" width="1" height="6" fill="#C0C0C0"/>
<rect x="1340" y="679" width="1" height="4" fill="#C0C0C0"/>
<rect x="1348" y="681" width="1" height="2" fill="#C0C0C0"/>
<rect x="1356" y="681" width="1" height="2" fill="#C0C0C0"/>
<rect x="1364" y="682" width="1" height="1" fill="#C0C0C0"/>
<rect x="1372" y="682" width="1" height="1" fill="#C0C0C0"/>
<rect x="1380" y="682" width="1" height="1" fill="#C0C0C0"/>
<rect x="1388" y="682" width="1" height="4" fill="#C0C0C0"/>
<rect x="1396" y="682" width="1" height="5" fill="#C0C0C0"/>
<rect x="1404" y="682" width="1" height="7" fill="#C0C0C0"/>
<rect x="1412" y="682" width="1" height="10" fill="#C0C0C0"/>
<rect x="1420" y="682" width="1" height="13" fill="#C0C0C0"/>
<rect x="1428" y="682" width="1" height="15" fill="#C0C0C0"/>
<polyline points="0.5,654.5 3.3,655.9 11.8,663.0 20.3,666.6 35.8,670.0 52.7,668.0 76.7,667.2 85.2,664.4 99.3,657.9 113.4,650.3 130.3,634.8 147.2,617.8 161.3,607.9 175.4,602.3 192.4,601.7 203.7,606.0 217.8,615.0 231.9,627.7 246.0,641.8 260.1,658.7 271.4,674.3 282.7,687.0 296.8,701.1 310.9,710.9 325.0,718.0 339.1,723.5 353.2,727.9 367.3,731.3 375.8,733.5 389.9,733.5 404.0,730.1 423.8,722.2 440.7,715.7 452.0,712.3 466.1,708.7 480.5,704.7 494.5,701.1 508.7,698.8 522.8,699.7 531.3,703.9 545.4,712.9 556.7,721.4 565.2,725.5 573.5,731.3 587.7,734.9 601.8,733.5 615.9,727.9 630.0,719.4 644.1,710.9 658.3,703.9 672.4,696.0 689.3,688.4 706.2,686.1 726.0,682.7 754.2,682.7 771.1,678.5 782.5,672.8 790.9,670.9 810.5,668.6 830.5,668.6 836.0,670.0 853.0,670.5 869.9,672.0 895.3,672.0 900.9,670.9 915.0,672.0 926.3,677.1 940.5,682.7 954.5,689.2 960.5,691.2 971.8,698.2 983.1,703.3 994.4,704.7 1022.5,704.7 1033.9,707.5 1056.5,711.5 1067.7,716.5 1079.0,722.2 1093.1,724.2 1107.2,722.2 1121.3,716.5 1135.5,710.1 1152.4,700.2 1169.3,691.2 1180.5,684.1 1194.7,675.7 1208.8,665.8 1222.9,657.3 1237.0,649.4 1251.1,644.5 1265.2,641.8 1279.3,641.0 1290.5,641.8 1304.7,645.5 1321.7,651.7 1338.5,660.2 1355.5,669.2 1372.5,675.7 1389.4,681.3 1406.3,685.0 1420.5,687.0 1428.9,690.5" fill="none" stroke="#FF0000" stroke-width="1" stroke-dasharray="3,3"/>
</g>
<g clip-path="url(#crsi)" shape-rendering="crispEdges">
<line x1="3" y1="790.5" x2="1654" y2="790.5" stroke="#C0C0C0" stroke-width="1" stroke-dasharray="3,3"/>
<line x1="3" y1="841.5" x2="1654" y2="841.5" stroke="#C0C0C0" stroke-width="1" stroke-dasharray="3,3"/>
<line x1="3" y1="902.5" x2="1654" y2="902.5" stroke="#C0C0C0" stroke-width="1" stroke-dasharray="3,3"/>
<polyline points="0.5,836.5 4.5,840.2 12.5,834.5 20.5,847.0 28.5,838.5 36.5,836.5 44.5,834.3 52.5,830.9 60.5,838.8 68.5,832.9 76.5,831.5 84.5,819.5 92.5,818.2 100.5,816.8 108.5,804.7 116.5,804.1 124.5,802.1 132.5,800.7 140.5,815.5 148.5,821.9 156.5,828.5 164.5,821.9 172.5,818.8 180.5,838.8 188.5,824.7 196.5,827.5 204.5,843.0 212.5,851.5 220.5,838.0 228.5,843.5 236.5,856.9 244.5,860.5 252.5,855.5 260.5,854.1 268.5,857.7 276.5,859.7 284.5,846.5 292.5,842.2 300.5,855.7 308.5,852.9 316.5,853.5 324.5,855.5 332.5,860.5 340.5,863.9 348.5,852.9 356.5,854.9 364.5,854.1 372.5,854.1 380.5,838.8 388.5,840.8 396.5,840.8 404.5,854.3 412.5,850.1 420.5,850.7 428.5,847.0 436.5,847.8 444.5,847.0 452.5,845.9 460.5,831.8 468.5,835.2 476.5,848.7 484.5,847.8 492.5,848.7 500.5,850.7 508.5,862.0 516.5,862.0 524.5,873.8 532.5,875.2 540.5,875.2 548.5,876.1 556.5,862.0 564.5,857.2 572.5,852.1 580.5,852.9 588.5,840.8 596.5,846.5 604.5,849.3 612.5,852.6 620.5,839.4 628.5,833.7 636.5,838.8 644.5,845.0 652.5,831.5 660.5,827.5 668.5,838.5 676.5,842.8 684.5,851.5 692.5,849.8 700.5,839.9 708.5,845.9 716.5,836.0 724.5,832.9 732.5,845.0 740.5,838.0 748.5,838.0 756.5,831.8 764.5,824.7 772.5,832.9 780.5,830.9 788.5,830.9 796.5,847.8 804.5,851.2 812.5,844.2 820.5,842.8 828.5,833.7 836.5,831.8 844.5,830.9 852.5,836.5 860.5,838.8 868.5,839.9 876.5,843.5 884.5,841.5 892.5,830.9 900.5,830.1 908.5,850.7 916.5,855.7 924.5,869.0 932.5,867.5 940.5,860.5 948.5,851.5 956.5,852.9 964.5,856.9 972.5,855.7 980.5,846.5 988.5,839.9 996.5,845.9 1004.5,851.5 1012.5,847.8 1020.5,869.5 1028.5,869.9 1036.5,871.8 1044.5,857.7 1052.5,863.9 1060.5,871.0 1068.5,857.7 1076.5,854.1 1084.5,850.1 1092.5,846.5 1100.5,833.7 1108.5,833.7 1116.5,840.8 1124.5,840.8 1132.5,841.5 1140.5,838.5 1148.5,842.8 1156.5,838.8 1164.5,823.0 1172.5,818.2 1180.5,813.5 1188.5,810.5 1196.5,819.5 1204.5,817.7 1212.5,813.5 1220.5,824.7 1228.5,830.9 1236.5,827.5 1244.5,821.0 1252.5,814.5 1260.5,823.9 1268.5,826.7 1276.5,830.9 1284.5,839.9 1292.5,837.5 1300.5,842.8 1308.5,851.2 1316.5,845.0 1324.5,850.7 1332.5,847.0 1340.5,847.0 1348.5,845.9 1356.5,842.2 1364.5,851.2 1372.5,840.8 1380.5,839.4 1388.5,851.5 1396.5,856.3 1404.5,859.1 1412.5,860.0 1420.5,857.7 1428.5,856.9" fill="none" stroke="#1E90FF" stroke-width="1" />
</g>
<g shape-rendering="crispEdges">
<rect x="0" y="27" width="1655" height="1" fill="#000"/>
<rect x="1654" y="27" width="1" height="902" fill="#000"/>
<rect x="0" y="580" width="1655" height="1" fill="#000"/>
<rect x="0" y="582" width="1655" height="1" fill="#000"/>
<rect x="0" y="752" width="1655" height="1" fill="#000"/>
<rect x="0" y="754" width="1655" height="1" fill="#000"/>
<rect x="0" y="928" width="1655" height="1" fill="#000"/>
<rect x="0" y="581" width="1657" height="1" fill="#FFFFFF"/>
<rect x="0" y="753" width="1657" height="1" fill="#FFFFFF"/>
<rect x="1655" y="579" width="2" height="1" fill="#000"/>
<rect x="1655" y="584" width="2" height="1" fill="#000"/>
<rect x="1655" y="751" width="2" height="1" fill="#000"/>
<rect x="1655" y="756" width="2" height="1" fill="#000"/>
<rect x="1655" y="928" width="2" height="1" fill="#000"/>
<rect x="1700" y="25" width="1" height="923" fill="#E3E3E3"/>
</g>
<g shape-rendering="crispEdges">
<rect x="1655" y="49" width="2" height="1" fill="#000"/>
<rect x="1655" y="82" width="2" height="1" fill="#000"/>
<rect x="1655" y="115" width="2" height="1" fill="#000"/>
<rect x="1655" y="148" width="2" height="1" fill="#000"/>
<rect x="1655" y="181" width="2" height="1" fill="#000"/>
<rect x="1655" y="214" width="2" height="1" fill="#000"/>
<rect x="1655" y="247" width="2" height="1" fill="#000"/>
<rect x="1655" y="280" width="2" height="1" fill="#000"/>
<rect x="1655" y="313" width="2" height="1" fill="#000"/>
<rect x="1655" y="346" width="2" height="1" fill="#000"/>
<rect x="1655" y="379" width="2" height="1" fill="#000"/>
<rect x="1655" y="412" width="2" height="1" fill="#000"/>
<rect x="1655" y="445" width="2" height="1" fill="#000"/>
<rect x="1655" y="478" width="2" height="1" fill="#000"/>
<rect x="1655" y="511" width="2" height="1" fill="#000"/>
<rect x="1655" y="544" width="2" height="1" fill="#000"/>
<rect x="1655" y="577" width="2" height="1" fill="#000"/>
<rect x="1655" y="682" width="2" height="1" fill="#000"/>
<rect x="1655" y="790" width="2" height="1" fill="#000"/>
<rect x="1655" y="841" width="2" height="1" fill="#000"/>
<rect x="1655" y="902" width="2" height="1" fill="#000"/>
</g>
<text class="ax" x="1660.3" y="52.9" textLength="33" lengthAdjust="spacingAndGlyphs">31146.0</text>
<text class="ax" x="1660.3" y="85.9" textLength="33" lengthAdjust="spacingAndGlyphs">30915.0</text>
<text class="ax" x="1660.3" y="118.9" textLength="33" lengthAdjust="spacingAndGlyphs">30677.0</text>
<text class="ax" x="1660.3" y="151.9" textLength="33" lengthAdjust="spacingAndGlyphs">30446.0</text>
<text class="ax" x="1660.3" y="184.9" textLength="33" lengthAdjust="spacingAndGlyphs">30215.0</text>
<text class="ax" x="1660.3" y="217.9" textLength="33" lengthAdjust="spacingAndGlyphs">29977.0</text>
<text class="ax" x="1660.3" y="250.9" textLength="33" lengthAdjust="spacingAndGlyphs">29746.0</text>
<text class="ax" x="1660.3" y="283.9" textLength="33" lengthAdjust="spacingAndGlyphs">29515.0</text>
<text class="ax" x="1660.3" y="316.9" textLength="33" lengthAdjust="spacingAndGlyphs">29277.0</text>
<text class="ax" x="1660.3" y="349.9" textLength="33" lengthAdjust="spacingAndGlyphs">29046.0</text>
<text class="ax" x="1660.3" y="382.9" textLength="33" lengthAdjust="spacingAndGlyphs">28815.0</text>
<text class="ax" x="1660.3" y="415.9" textLength="33" lengthAdjust="spacingAndGlyphs">28584.0</text>
<text class="ax" x="1660.3" y="448.9" textLength="33" lengthAdjust="spacingAndGlyphs">28346.0</text>
<text class="ax" x="1660.3" y="481.9" textLength="33" lengthAdjust="spacingAndGlyphs">28115.0</text>
<text class="ax" x="1660.3" y="514.9" textLength="33" lengthAdjust="spacingAndGlyphs">27877.0</text>
<text class="ax" x="1660.3" y="547.9" textLength="33" lengthAdjust="spacingAndGlyphs">27646.0</text>
<text class="ax" x="1660.3" y="580.9" textLength="33" lengthAdjust="spacingAndGlyphs">27415.0</text>
<text class="ax" x="1658.3" y="592.6" textLength="28.5" lengthAdjust="spacingAndGlyphs">511.02</text>
<text class="ax" x="1658.3" y="686.1" textLength="18.3" lengthAdjust="spacingAndGlyphs">0.00</text>
<text class="ax" x="1658.3" y="749.1" textLength="31.2" lengthAdjust="spacingAndGlyphs">-358.25</text>
<text class="ax" x="1658.3" y="765.1" textLength="15.2" lengthAdjust="spacingAndGlyphs">100</text>
<text class="ax" x="1658.3" y="793.6" textLength="10.2" lengthAdjust="spacingAndGlyphs">80</text>
<text class="ax" x="1658.3" y="845.1" textLength="10.2" lengthAdjust="spacingAndGlyphs">50</text>
<text class="ax" x="1658.3" y="905.6" textLength="10.2" lengthAdjust="spacingAndGlyphs">15</text>
<text class="ax" x="1658.3" y="925.1" textLength="5.1" lengthAdjust="spacingAndGlyphs">0</text>
<rect x="1656" y="428" width="41" height="11" fill="#000" shape-rendering="crispEdges"/>
<text class="ax" x="1660.3" y="436.5" style="fill:#fff" textLength="33" lengthAdjust="spacingAndGlyphs">28432.5</text>
<rect x="1656" y="380" width="41" height="11" fill="#FF0000" shape-rendering="crispEdges"/>
<text class="ax" x="1660.3" y="388.5" style="fill:#fff" textLength="33" lengthAdjust="spacingAndGlyphs">28763.9</text>
<rect x="1656" y="404" width="41" height="11" fill="#FF0000" shape-rendering="crispEdges"/>
<text class="ax" x="1660.3" y="412.5" style="fill:#fff" textLength="33" lengthAdjust="spacingAndGlyphs">28594.5</text>
<rect x="1656" y="424" width="41" height="11" fill="#32CD32" shape-rendering="crispEdges"/>
<text class="ax" x="1660.3" y="432.5" style="fill:#fff" textLength="33" lengthAdjust="spacingAndGlyphs">28453.2</text>
<rect x="1656" y="459" width="41" height="11" fill="#0000FF" shape-rendering="crispEdges"/>
<text class="ax" x="1660.3" y="467.5" style="fill:#fff" textLength="33" lengthAdjust="spacingAndGlyphs">28202.0</text>
<rect x="1656" y="476" width="41" height="11" fill="#0000FF" shape-rendering="crispEdges"/>
<text class="ax" x="1660.3" y="484.5" style="fill:#fff" textLength="33" lengthAdjust="spacingAndGlyphs">28086.0</text>
<g shape-rendering="crispEdges">
<rect x="-4" y="929" width="1" height="3" fill="#000"/>
<rect x="60" y="929" width="1" height="3" fill="#000"/>
<rect x="124" y="929" width="1" height="3" fill="#000"/>
<rect x="188" y="929" width="1" height="3" fill="#000"/>
<rect x="252" y="929" width="1" height="3" fill="#000"/>
<rect x="316" y="929" width="1" height="3" fill="#000"/>
<rect x="380" y="929" width="1" height="3" fill="#000"/>
<rect x="444" y="929" width="1" height="3" fill="#000"/>
<rect x="508" y="929" width="1" height="3" fill="#000"/>
<rect x="572" y="929" width="1" height="3" fill="#000"/>
<rect x="636" y="929" width="1" height="3" fill="#000"/>
<rect x="700" y="929" width="1" height="3" fill="#000"/>
<rect x="764" y="929" width="1" height="3" fill="#000"/>
<rect x="828" y="929" width="1" height="3" fill="#000"/>
<rect x="892" y="929" width="1" height="3" fill="#000"/>
<rect x="956" y="929" width="1" height="3" fill="#000"/>
<rect x="1020" y="929" width="1" height="3" fill="#000"/>
<rect x="1084" y="929" width="1" height="3" fill="#000"/>
<rect x="1148" y="929" width="1" height="3" fill="#000"/>
<rect x="1212" y="929" width="1" height="3" fill="#000"/>
<rect x="1276" y="929" width="1" height="3" fill="#000"/>
<rect x="1340" y="929" width="1" height="3" fill="#000"/>
<rect x="1404" y="929" width="1" height="3" fill="#000"/>
</g>
<text class="ax" x="3.6" y="941" textLength="37.8" lengthAdjust="spacingAndGlyphs">Feb 2021</text>
<text class="ax" x="59.4" y="941" textLength="49.4" lengthAdjust="spacingAndGlyphs">8 Feb 05:00</text>
<text class="ax" x="123.4" y="941" textLength="54.2" lengthAdjust="spacingAndGlyphs">17 Feb 01:15</text>
<text class="ax" x="187.4" y="941" textLength="54.2" lengthAdjust="spacingAndGlyphs">23 Feb 01:15</text>
<text class="ax" x="251.4" y="941" textLength="48.8" lengthAdjust="spacingAndGlyphs">1 Mar 01:15</text>
<text class="ax" x="315.4" y="941" textLength="48.8" lengthAdjust="spacingAndGlyphs">5 Mar 01:15</text>
<text class="ax" x="379.4" y="941" textLength="54.0" lengthAdjust="spacingAndGlyphs">11 Mar 01:15</text>
<text class="ax" x="443.4" y="941" textLength="54.0" lengthAdjust="spacingAndGlyphs">17 Mar 01:15</text>
<text class="ax" x="507.4" y="941" textLength="54.0" lengthAdjust="spacingAndGlyphs">23 Mar 01:15</text>
<text class="ax" x="571.4" y="941" textLength="54.0" lengthAdjust="spacingAndGlyphs">29 Mar 01:15</text>
<text class="ax" x="635.4" y="941" textLength="48.5" lengthAdjust="spacingAndGlyphs">7 Apr 01:15</text>
<text class="ax" x="699.4" y="941" textLength="53.2" lengthAdjust="spacingAndGlyphs">13 Apr 01:15</text>
<text class="ax" x="763.4" y="941" textLength="53.2" lengthAdjust="spacingAndGlyphs">19 Apr 01:15</text>
<text class="ax" x="827.4" y="941" textLength="53.2" lengthAdjust="spacingAndGlyphs">23 Apr 01:15</text>
<text class="ax" x="891.4" y="941" textLength="53.2" lengthAdjust="spacingAndGlyphs">29 Apr 01:15</text>
<text class="ax" x="955.4" y="941" textLength="51.5" lengthAdjust="spacingAndGlyphs">5 May 01:15</text>
<text class="ax" x="1019.4" y="941" textLength="56.8" lengthAdjust="spacingAndGlyphs">11 May 01:15</text>
<text class="ax" x="1083.4" y="941" textLength="56.8" lengthAdjust="spacingAndGlyphs">17 May 01:15</text>
<text class="ax" x="1147.4" y="941" textLength="56.8" lengthAdjust="spacingAndGlyphs">24 May 01:15</text>
<text class="ax" x="1211.4" y="941" textLength="56.8" lengthAdjust="spacingAndGlyphs">28 May 01:15</text>
<text class="ax" x="1275.4" y="941" textLength="46.9" lengthAdjust="spacingAndGlyphs">3 Jun 01:15</text>
<text class="ax" x="1339.4" y="941" textLength="46.9" lengthAdjust="spacingAndGlyphs">9 Jun 01:15</text>
<text class="ax" x="1403.4" y="941" textLength="52.2" lengthAdjust="spacingAndGlyphs">16 Jun 01:15</text>
<g clip-path="url(#cm)">
<rect x="1332" y="428" width="157" height="8" fill="#00FF00" shape-rendering="crispEdges"/>
<line x1="1244.6" y1="303.3" x2="1304.7" y2="416.5" stroke="#FF0000" stroke-width="2.8"/>
<polygon points="1308.7,424.0 1299.7,416.9 1307.8,412.6" fill="#FF0000"/>
<line x1="1313.8" y1="424.0" x2="1371.5" y2="375.2" stroke="#FF0000" stroke-width="2.8"/>
<polygon points="1378.0,369.7 1373.0,380.0 1367.0,373.0" fill="#FF0000"/>
<line x1="1379.0" y1="367.5" x2="1417.7" y2="471.4" stroke="#FF0000" stroke-width="3.0"/>
<polygon points="1420.8,479.8 1411.9,471.4 1422.0,467.6" fill="#FF0000"/>
<path d="M1420.8 478.5 L1428.4 441 Q1429.5 433.8 1436 434.2" stroke="#FF0000" stroke-width="3.5" fill="none"/>
<polygon points="1435.5,431.8 1444.2,440.4 1437,442.2 1434,437.5" fill="#FF0000"/>
<polygon points="1428.5,441 1431.6,446 1433,441.5" fill="#FF0000"/>
</g>
<line x1="1296.0" y1="648.5" x2="1419.1" y2="695.0" stroke="#FF0000" stroke-width="3.0"/>
<polygon points="1428.5,698.5 1415.5,698.9 1419.0,689.6" fill="#FF0000"/>
<line x1="1270.0" y1="817.5" x2="1408.9" y2="857.2" stroke="#FF0000" stroke-width="3.0"/>
<polygon points="1418.5,860.0 1405.6,861.5 1408.3,851.9" fill="#FF0000"/>
<rect x="469.5" y="557.5" width="61.0" height="18.0" fill="#fff" stroke="#FF0000" stroke-width="1" shape-rendering="crispEdges"/>
<text x="471.6" y="573.1" font-size="16.7" fill="#FF0000" textLength="57.4" lengthAdjust="spacingAndGlyphs">27492.9</text>
<rect x="531" y="566" width="10" height="1" fill="#FF0000" shape-rendering="crispEdges"/>
<rect x="989.5" y="558.5" width="61.0" height="18.0" fill="#fff" stroke="#FF0000" stroke-width="1" shape-rendering="crispEdges"/>
<text x="991.6" y="574.1" font-size="16.7" fill="#FF0000" textLength="57.4" lengthAdjust="spacingAndGlyphs">27485.8</text>
<rect x="1051" y="567" width="10" height="1" fill="#FF0000" shape-rendering="crispEdges"/>
<rect x="1181.5" y="286.5" width="61.0" height="18.0" fill="#fff" stroke="#FF0000" stroke-width="1" shape-rendering="crispEdges"/>
<text x="1183.6" y="302.0" font-size="16.7" fill="#FF0000" textLength="57.6" lengthAdjust="spacingAndGlyphs">29406.6</text>
<rect x="1243" y="295" width="10" height="1" fill="#FF0000" shape-rendering="crispEdges"/>
<rect x="1221" y="430" width="10" height="1" fill="#FF0000" shape-rendering="crispEdges"/>
<rect x="1231.5" y="418.5" width="73.0" height="24.0" fill="#fff" stroke="#FF0000" stroke-width="1" shape-rendering="crispEdges"/>
<text x="1233.1" y="438.8" font-size="22.0" fill="#FF0000" textLength="70.0" lengthAdjust="spacingAndGlyphs">28453.2</text>
<text class="cjk" x="1462.5" y="403.8" font-size="21.2" fill="#00FF00" textLength="106.5" lengthAdjust="spacingAndGlyphs">多空转折点</text>
<path d="M0.5 38.5 L3 34.5 L5.5 38.5 Z" fill="#000"/>
<text x="11.5" y="39.2" font-size="9.8" fill="#000" textLength="40" lengthAdjust="spacingAndGlyphs">HK50-,H4</text>
<text x="58.0" y="39.2" font-size="9.8" fill="#000" textLength="32.2" lengthAdjust="spacingAndGlyphs">28409.0</text>
<text x="94.1" y="39.2" font-size="9.8" fill="#000" textLength="32.2" lengthAdjust="spacingAndGlyphs">28457.5</text>
<text x="130.2" y="39.2" font-size="9.8" fill="#000" textLength="32.2" lengthAdjust="spacingAndGlyphs">28306.5</text>
<text x="166.3" y="39.2" font-size="9.8" fill="#000" textLength="32.2" lengthAdjust="spacingAndGlyphs">28432.5</text>
<text x="1" y="595" font-size="9.6" fill="#000" textLength="123" lengthAdjust="spacingAndGlyphs">MACD(12,26,9) -85.22 -37.68</text>
<text x="1" y="767" font-size="9.6" fill="#000" textLength="67.5" lengthAdjust="spacingAndGlyphs">RSI(14) 41.7417</text>
<path d="M61 45 Q61 43.5 62.5 43.5 H121.5 Q123 43.5 123 45" stroke="#FF0000" stroke-width="1" fill="none"/>
<defs><linearGradient id="pTop" x1="0" y1="0" x2="0" y2="1"><stop offset="0" stop-color="#F25050"/><stop offset="1" stop-color="#D62C2C"/></linearGradient>
<linearGradient id="pBot" x1="0" y1="0" x2="0" y2="1"><stop offset="0" stop-color="#D42A2A"/><stop offset="1" stop-color="#A80000"/></linearGradient>
<linearGradient id="btn" x1="0" y1="0" x2="0" y2="1"><stop offset="0" stop-color="#F4F4F4"/><stop offset="0.5" stop-color="#DCDCDC"/><stop offset="1" stop-color="#C8C8C8"/></linearGradient></defs>
<g shape-rendering="crispEdges">
<rect x="0" y="47" width="51" height="25" fill="url(#pTop)"/>
<rect x="166" y="47" width="52" height="25" fill="url(#pTop)"/>
<rect x="0" y="72" width="108" height="32" fill="url(#pBot)"/>
<rect x="110" y="72" width="108" height="32" fill="url(#pBot)"/>
<rect x="51" y="47" width="115" height="25" fill="#fff"/>
<rect x="108" y="72" width="2" height="32" fill="#fff"/>
<rect x="0" y="104" width="219" height="2" fill="#fff"/>
<rect x="218" y="47" width="1" height="59" fill="#fff"/>
<rect x="3" y="70" width="44" height="1" fill="#F08080"/>
<rect x="170" y="70" width="44" height="1" fill="#F08080"/>
</g>
<rect x="53.5" y="47.5" width="110" height="22" rx="2" fill="#F0F0F0" stroke="#B4B4B4" stroke-width="1"/>
<rect x="54.5" y="48.5" width="19" height="20" fill="url(#btn)" stroke="#C8C8C8" stroke-width="1"/>
<rect x="143.5" y="48.5" width="19" height="20" fill="url(#btn)" stroke="#C8C8C8" stroke-width="1"/>
<rect x="75" y="48.5" width="67.5" height="20" fill="#fff" stroke="#C0C0C0" stroke-width="0.6"/>
<path d="M61 56 h5.4 l-2.7 3 z" fill="#4A64C8"/>
<path d="M150 59 h5.4 l-2.7 -3 z" fill="#4A64C8"/>
<text x="138.8" y="62" font-size="12.3" fill="#000" text-anchor="end">1.00</text>
<text x="24.2" y="62.6" font-size="10.8" fill="#fff" text-anchor="middle">SELL</text>
<text x="190.7" y="62.6" font-size="10.8" fill="#fff" text-anchor="middle">BUY</text>
<text x="15.4" y="99" font-size="12" font-weight="bold" fill="#fff">28431</text>
<text x="125.4" y="99" font-size="12" font-weight="bold" fill="#fff">28444</text>
<rect x="54.3" y="95" width="4" height="4" fill="#fff"/>
<rect x="165.8" y="95" width="4" height="4" fill="#fff"/>
<text x="60" y="99" font-size="32.5" fill="#fff" textLength="18.5" lengthAdjust="spacingAndGlyphs">0</text>
<text x="170.6" y="99" font-size="32.5" fill="#fff" textLength="18.5" lengthAdjust="spacingAndGlyphs">0</text>
<path d="M1432 28 h11.4 l-5.7 4.9 z" fill="#B8B8B8"/>
<g id="toolbar">
<defs>
<linearGradient id="gGold" x1="0" y1="0" x2="1" y2="1"><stop offset="0" stop-color="#FFE27A"/><stop offset="0.5" stop-color="#E8B020"/><stop offset="1" stop-color="#A87808"/></linearGradient>
<linearGradient id="gGreen" x1="0" y1="0" x2="0" y2="1"><stop offset="0" stop-color="#5CFF5C"/><stop offset="1" stop-color="#10B010"/></linearGradient>
<radialGradient id="gLens" cx="0.4" cy="0.35" r="0.7"><stop offset="0" stop-color="#FFFFFF"/><stop offset="1" stop-color="#B8DCF8"/></radialGradient>
<linearGradient id="gBlue" x1="0" y1="0" x2="0" y2="1"><stop offset="0" stop-color="#4AA0F0"/><stop offset="1" stop-color="#1050B8"/></linearGradient>
<linearGradient id="gGrn2" x1="0" y1="0" x2="0" y2="1"><stop offset="0" stop-color="#58B030"/><stop offset="1" stop-color="#2A8010"/></linearGradient>
<pattern id="sel" width="2" height="2" patternUnits="userSpaceOnUse"><rect width="2" height="2" fill="#FFFFFF"/><rect width="1" height="1" fill="#ECECEC"/><rect x="1" y="1" width="1" height="1" fill="#ECECEC"/></pattern>
</defs>
<g shape-rendering="crispEdges">
<rect x="0" y="0" width="1701" height="23" fill="#F0F0F0"/>
<rect x="0" y="23" width="1701" height="1" fill="#A0A0A0"/>
<rect x="0" y="24" width="1701" height="1" fill="#696969"/>
<rect x="0" y="25" width="1701" height="2" fill="#FFFFFF"/>
<rect x="290" y="1" width="24" height="20" fill="url(#sel)"/>
<rect x="442" y="1" width="24" height="20" fill="url(#sel)"/>
<rect x="470" y="1" width="24" height="20" fill="url(#sel)"/>
<rect x="630" y="1" width="24" height="20" fill="url(#sel)"/>
<rect x="1076" y="1" width="24" height="20" fill="url(#sel)"/>
<rect x="15" y="1" width="1" height="20" fill="#A0A0A0"/>
<rect x="251" y="1" width="1" height="20" fill="#A0A0A0"/>
<rect x="289" y="1" width="1" height="20" fill="#A0A0A0"/>
<rect x="346" y="1" width="1" height="20" fill="#A0A0A0"/>
<rect x="436" y="1" width="1" height="20" fill="#A0A0A0"/>
<rect x="441" y="1" width="1" height="20" fill="#A0A0A0"/>
<rect x="469" y="1" width="1" height="20" fill="#A0A0A0"/>
<rect x="498" y="1" width="1" height="20" fill="#A0A0A0"/>
<rect x="619" y="1" width="1" height="20" fill="#A0A0A0"/>
<rect x="629" y="1" width="1" height="20" fill="#A0A0A0"/>
<rect x="686" y="1" width="1" height="20" fill="#A0A0A0"/>
<rect x="925" y="1" width="1" height="20" fill="#A0A0A0"/>
<rect x="1075" y="1" width="1" height="20" fill="#A0A0A0"/>
<rect x="1186" y="1" width="1" height="20" fill="#A0A0A0"/>
<rect x="252" y="1" width="1" height="20" fill="#FFFFFF"/>
<rect x="620" y="1" width="1" height="20" fill="#FFFFFF"/>
<rect x="926" y="1" width="1" height="20" fill="#FFFFFF"/>
<rect x="1187" y="1" width="1" height="20" fill="#FFFFFF"/>
<rect x="255" y="2" width="3" height="1" fill="#A8A8A8"/>
<rect x="255" y="4" width="3" height="1" fill="#A8A8A8"/>
<rect x="255" y="6" width="3" height="1" fill="#A8A8A8"/>
<rect x="255" y="8" width="3" height="1" fill="#A8A8A8"/>
<rect x="255" y="10" width="3" height="1" fill="#A8A8A8"/>
<rect x="255" y="12" width="3" height="1" fill="#A8A8A8"/>
<rect x="255" y="14" width="3" height="1" fill="#A8A8A8"/>
<rect x="255" y="16" width="3" height="1" fill="#A8A8A8"/>
<rect x="255" y="18" width="3" height="1" fill="#A8A8A8"/>
<rect x="623" y="2" width="3" height="1" fill="#A8A8A8"/>
<rect x="623" y="4" width="3" height="1" fill="#A8A8A8"/>
<rect x="623" y="6" width="3" height="1" fill="#A8A8A8"/>
<rect x="623" y="8" width="3" height="1" fill="#A8A8A8"/>
<rect x="623" y="10" width="3" height="1" fill="#A8A8A8"/>
<rect x="623" y="12" width="3" height="1" fill="#A8A8A8"/>
<rect x="623" y="14" width="3" height="1" fill="#A8A8A8"/>
<rect x="623" y="16" width="3" height="1" fill="#A8A8A8"/>
<rect x="623" y="18" width="3" height="1" fill="#A8A8A8"/>
<rect x="929" y="2" width="3" height="1" fill="#A8A8A8"/>
<rect x="929" y="4" width="3" height="1" fill="#A8A8A8"/>
<rect x="929" y="6" width="3" height="1" fill="#A8A8A8"/>
<rect x="929" y="8" width="3" height="1" fill="#A8A8A8"/>
<rect x="929" y="10" width="3" height="1" fill="#A8A8A8"/>
<rect x="929" y="12" width="3" height="1" fill="#A8A8A8"/>
<rect x="929" y="14" width="3" height="1" fill="#A8A8A8"/>
<rect x="929" y="16" width="3" height="1" fill="#A8A8A8"/>
<rect x="929" y="18" width="3" height="1" fill="#A8A8A8"/>
</g>
<circle cx="-1" cy="10" r="5" fill="url(#gLens)" stroke="#5A90D0" stroke-width="1.2"/>
<line x1="3" y1="15" x2="7" y2="19.5" stroke="#C89A10" stroke-width="2.4" stroke-linecap="round"/>
<path d="M25.5 3.5 h7.5 l3.5 3.5 v10.0 h-11.0 z" fill="#FFFFFF" stroke="#8A8A8A" stroke-width="1"/>
<path d="M33.0 3.5 v3.5 h3.5" fill="#E8E8E8" stroke="#8A8A8A" stroke-width="0.8"/>
<path d="M27.5 6.5h3 M27.5 9.5h6 M27.5 12h4" stroke="#9A9A9A" stroke-width="1"/>
<path d="M33.0 9.3 h4.0 v3.7 h3.7 v4.0 h-3.7 v3.7 h-4.0 v-3.7 h-3.7 v-4.0 h3.7 z" fill="url(#gGreen)" stroke="#0A8A0A" stroke-width="0.9"/>
<path d="M98.5 4 L107.8 11.5 L102 18.6 L92.2 13 Z" fill="url(#gGold)" stroke="#A87808" stroke-width="0.8"/>
<path d="M92.2 13 L92.6 14.8 L102.2 20 L107.9 13.2 L107.8 11.5" fill="#C89818" stroke="#9A6C06" stroke-width="0.7"/>
<path d="M122.5 5 L126 3.3 L132.7 4 L132.7 12.5 L122.5 12.5 Z" fill="url(#gBlue)" stroke="#1858B8" stroke-width="0.6"/>
<path d="M126 3.5 L126 12" stroke="#9CCBFA" stroke-width="0.8"/>
<rect x="127.5" y="6.5" width="4" height="2" fill="#CFE6FF"/>
<path d="M122.5 18.3 a3.1 3.1 0 0 1 0.6 -6.1 a3.6 3.6 0 0 1 6.6 -1.0 a3 3 0 0 1 3.6 2.0 a2.6 2.6 0 0 1 -0.4 5.1 z" fill="#F4F8FF" stroke="#6A90D0" stroke-width="0.9"/>
<circle cx="155.9" cy="10.7" r="7.6" fill="#E4F0E4" stroke="none"/>
<path d="M155.9 10.7 L155.9 18.3 A7.6 7.6 0 0 0 163.5 10.7 A7.6 7.6 0 0 0 155.9 3.1" fill="#CFE8CF" stroke="#7DB87D" stroke-width="0.8"/>
<path d="M155.9 3.1 A7.6 7.6 0 0 0 153 17.7" fill="none" stroke="#6C8EE0" stroke-width="1"/>
<path d="M155.9 5.8 A4.9 4.9 0 0 0 153.4 14.9" fill="none" stroke="#4A74D8" stroke-width="1"/>
<path d="M157 6 A4.9 4.9 0 0 1 160.6 12" fill="none" stroke="#8FC38F" stroke-width="0.9"/>
<circle cx="155.9" cy="10.7" r="2" fill="#2A5CD0"/>
<path d="M156.2 11 V18.4" stroke="#1FA01F" stroke-width="1.3"/>
<path d="M177 10 L189.5 9.5 L188.5 14 L184 18.7 L181 17.5 Z" fill="#F5D848" stroke="#C8A010" stroke-width="0.7"/>
<ellipse cx="183" cy="8.2" rx="7.8" ry="2.6" fill="#3C8CD8" stroke="#2A6CB8" stroke-width="0.6"/>
<path d="M179 7.5 a4 4.2 0 0 1 8 0 z" fill="#6CB4F0" stroke="#2A6CB8" stroke-width="0.6"/>
<circle cx="187.4" cy="14.9" r="3.7" fill="#E02010" stroke="#B01808" stroke-width="0.5"/>
<rect x="186" y="13.5" width="2.8" height="2.8" fill="#FFFFFF"/>
<text class="cjk" x="44" y="14.3" font-size="11.6" fill="#000" textLength="35.2" lengthAdjust="spacingAndGlyphs">新订单</text>
<text class="cjk" x="198.2" y="14.3" font-size="11.2" fill="#000" textLength="44.2" lengthAdjust="spacingAndGlyphs">自动交易</text>
<path d="M269.3 6.0 V18.7 M266.9 16.5 H279.8" stroke="#505050" stroke-width="1.2" fill="none"/>
<path d="M269.3 5.0 l-2 2.6 h4 z" fill="#505050"/>
<path d="M280.9 16.5 l-2.6 -2 v4 z" fill="#505050"/>
<path d="M275.5 6.6 V14.4 M275.5 7.4 H278 M273.3 13.4 H275.5" stroke="#109010" stroke-width="1.3" fill="none"/>
<path d="M297.3 6.0 V18.7 M294.9 16.5 H307.8" stroke="#505050" stroke-width="1.2" fill="none"/>
<path d="M297.3 5.0 l-2 2.6 h4 z" fill="#505050"/>
<path d="M308.9 16.5 l-2.6 -2 v4 z" fill="#505050"/>
<path d="M303.6 3.3 V14.8" stroke="#0A8A0A" stroke-width="1.2"/>
<rect x="301.4" y="5.5" width="4.4" height="7.2" fill="url(#gGreen)" stroke="#0A8A0A" stroke-width="0.9"/>
<path d="M325.6 6.0 V18.7 M323.2 16.5 H336.1" stroke="#505050" stroke-width="1.2" fill="none"/>
<path d="M325.6 5.0 l-2 2.6 h4 z" fill="#505050"/>
<path d="M337.2 16.5 l-2.6 -2 v4 z" fill="#505050"/>
<path d="M324 13.6 C327 12.5 328.5 8.2 330.4 8.2 C332.3 8.2 333.5 11.2 335.8 12.4" stroke="#2AA02A" stroke-width="1.2" fill="none"/>
<line x1="365.4" y1="13.3" x2="369.7" y2="17.3" stroke="#B08A10" stroke-width="3" stroke-linecap="round"/>
<line x1="365.4" y1="13.1" x2="369.5" y2="17.0" stroke="#F0D050" stroke-width="1.4" stroke-linecap="round"/>
<circle cx="361.1" cy="9.0" r="5.6" fill="url(#gLens)" stroke="#3A80D0" stroke-width="1.2"/>
<path d="M357.9 9.0 h6.4" stroke="#3A80B8" stroke-width="1.7"/>
<path d="M361.1 5.8 v6.4" stroke="#3A80B8" stroke-width="1.7"/>
<line x1="393.3" y1="13.0" x2="397.6" y2="17.0" stroke="#B08A10" stroke-width="3" stroke-linecap="round"/>
<line x1="393.3" y1="12.8" x2="397.4" y2="16.7" stroke="#F0D050" stroke-width="1.4" stroke-linecap="round"/>
<circle cx="389.0" cy="8.7" r="5.6" fill="url(#gLens)" stroke="#3A80D0" stroke-width="1.2"/>
<path d="M385.8 8.7 h6.4" stroke="#3A80B8" stroke-width="1.7"/>
<rect x="411.3" y="3.4" width="7.6" height="7.4" rx="0.8" fill="url(#gGrn2)"/>
<rect x="412.7" y="6.7" width="4.8" height="2.8" fill="#FFFFFF"/>
<rect x="413.6" y="7.6" width="3" height="0.9" fill="#8CC870"/>
<rect x="419.2" y="3.4" width="7.6" height="7.4" rx="0.8" fill="url(#gBlue)"/>
<rect x="420.6" y="6.7" width="4.8" height="2.8" fill="#FFFFFF"/>
<rect x="421.5" y="7.6" width="3" height="0.9" fill="#80A8E8"/>
<rect x="411.3" y="11.2" width="7.6" height="7.4" rx="0.8" fill="url(#gBlue)"/>
<rect x="412.7" y="14.5" width="4.8" height="2.8" fill="#FFFFFF"/>
<rect x="413.6" y="15.4" width="3" height="0.9" fill="#80A8E8"/>
<rect x="419.2" y="11.2" width="7.6" height="7.4" rx="0.8" fill="url(#gGrn2)"/>
<rect x="420.6" y="14.5" width="4.8" height="2.8" fill="#FFFFFF"/>
<rect x="421.5" y="15.4" width="3" height="0.9" fill="#8CC870"/>
<path d="M449.5 6.0 V18.7 M447.1 16.5 H460.0" stroke="#505050" stroke-width="1.2" fill="none"/>
<path d="M449.5 5.0 l-2 2.6 h4 z" fill="#505050"/>
<path d="M461.1 16.5 l-2.6 -2 v4 z" fill="#505050"/>
<path d="M454.2 7.4 L458.2 10.5 L454.2 13.6 Z" fill="#30C030" stroke="#109010" stroke-width="0.8"/>
<path d="M477.5 6.0 V18.7 M475.1 16.5 H488.0" stroke="#505050" stroke-width="1.2" fill="none"/>
<path d="M477.5 5.0 l-2 2.6 h4 z" fill="#505050"/>
<path d="M489.1 16.5 l-2.6 -2 v4 z" fill="#505050"/>
<path d="M483.5 5 V14.8" stroke="#1868B0" stroke-width="1.3"/>
<path d="M484.6 10.3 L487.4 8.2 L487.4 9.8 L489.2 9.8 L489.2 10.8 L487.4 10.8 L487.4 12.4 Z" fill="#E04810"/>
<path d="M508.5 3.5 h7.5 l3.5 3.5 v9.5 h-11.0 z" fill="#FFFFFF" stroke="#8A8A8A" stroke-width="1"/>
<path d="M516.0 3.5 v3.5 h3.5" fill="#E8E8E8" stroke="#8A8A8A" stroke-width="0.8"/>
<path d="M512.5 6.5 c-1.5 0 -1.5 1 -1.5 2.5 v4 c0 1.5 0 2 -1 2 M510 9.5 h3" stroke="#606040" stroke-width="0.9" fill="none"/>
<path d="M515.8 9.1 h4.0 v3.7 h3.7 v4.0 h-3.7 v3.7 h-4.0 v-3.7 h-3.7 v-4.0 h3.7 z" fill="url(#gGreen)" stroke="#0A8A0A" stroke-width="0.9"/>
<path d="M530.0 9.9 h5.6 l-2.8 3.2 z" fill="#000"/>
<circle cx="553.8" cy="10.7" r="7.2" fill="#F4F8FF" stroke="#1C68D0" stroke-width="2.2"/>
<circle cx="553.8" cy="10.7" r="8.2" fill="none" stroke="#0C48A0" stroke-width="0.6"/>
<path d="M553.6 6.2 V11 H557" stroke="#303030" stroke-width="1.1" fill="none"/>
<path d="M569.0 9.9 h5.6 l-2.8 3.2 z" fill="#000"/>
<rect x="585.3" y="4.3" width="15.4" height="13.2" fill="#FFFFFF" stroke="#2868C0" stroke-width="1"/>
<rect x="585.3" y="4.3" width="15.4" height="2.4" fill="#4A90E0"/>
<path d="M585.8 11.6 H600.2" stroke="#2868C0" stroke-width="1"/>
<path d="M587.5 10 L589.5 9.6 L591.5 8.4 L593.5 8.8 L595.5 9.4 L597.5 8.2 L599 8" stroke="#A02010" stroke-width="1.1" fill="none"/>
<path d="M587.5 15.4 L589.5 14.6 L591.5 15 L593.5 14 L595.5 13 L597.5 14.6 L599 15.2" stroke="#109010" stroke-width="1.1" fill="none"/>
<path d="M607.8 9.9 h5.6 l-2.8 3.2 z" fill="#000"/>
<path d="M637.2 4.1 L637.2 15.3 L639.8 13.1 L642.2 18 L644.2 17 L641.9 12.3 L645.3 11.6 Z" fill="#505050"/>
<path d="M662 11.4 H668 M670.8 11.4 H677 M669.4 4.2 V10 M669.4 12.8 V18.9" stroke="#505050" stroke-width="1.3"/>
<path d="M703.5 5 V17.7" stroke="#505050" stroke-width="1.3"/>
<path d="M726 11.4 H738" stroke="#505050" stroke-width="1.3"/>
<path d="M753.8 17.8 L766 5.9" stroke="#505050" stroke-width="1.3"/>
<path d="M780 14 L792 4.5 M781.5 17 L794 7 M783.5 18.5 L793.5 10.5" stroke="#505050" stroke-width="1" fill="none"/>
<path d="M784 9.5 L785.5 17.5 M788 7 L789 15 M791.5 3.5 L793 11" stroke="#505050" stroke-width="0.9" fill="none"/>
<text x="790.6" y="20" font-size="6.5" font-weight="bold" fill="#505050">E</text>
<path d="M809.2 4.5 H822" stroke="#505050" stroke-width="1" stroke-dasharray="1,1"/>
<path d="M809.2 7.8 H822" stroke="#505050" stroke-width="1" stroke-dasharray="1,1"/>
<path d="M809.2 11.2 H822" stroke="#505050" stroke-width="1" stroke-dasharray="1,1"/>
<path d="M809.2 15.6 H817" stroke="#505050" stroke-width="1" stroke-dasharray="1,1"/>
<text x="818.4" y="20" font-size="6.5" font-weight="bold" fill="#505050">F</text>
<text x="839.5" y="16.2" font-size="12.4" fill="#505050" stroke="#505050" stroke-width="0.5">A</text>
<rect x="866" y="5" width="11.8" height="12.4" fill="none" stroke="#505050" stroke-width="1" stroke-dasharray="1,1"/>
<rect x="865.3" y="4.2" width="1.8" height="1.4" fill="#505050"/>
<text x="867.9" y="15.6" font-size="11.5" font-weight="bold" fill="#505050">T</text>
<path d="M896.6 5 L899.8 8 L896.6 10 L893.4 8 Z" fill="#505050"/>
<path d="M903.8 12.5 L907.2 15 L903.8 17.8 L900.4 15 Z" fill="#505050"/>
<path d="M895 11.6 L897.2 13.8 L902.6 8.6" stroke="#505050" stroke-width="1.3" fill="none"/>
<path d="M914.0 10.0 h5.6 l-2.8 3.2 z" fill="#000"/>
<text class="tf" x="946.8" y="14.7" text-anchor="middle">M1</text>
<text class="tf" x="975.0" y="14.7" text-anchor="middle">M5</text>
<text class="tf" x="1003.4" y="14.7" text-anchor="middle">M15</text>
<text class="tf" x="1031.2" y="14.7" text-anchor="middle">M30</text>
<text class="tf" x="1059.5" y="14.7" text-anchor="middle">H1</text>
<text class="tf" x="1086.8" y="14.7" text-anchor="middle">H4</text>
<text class="tf" x="1115.5" y="14.7" text-anchor="middle">D1</text>
<text class="tf" x="1144.1" y="14.7" text-anchor="middle">W1</text>
<text class="tf" x="1170.9" y="14.7" text-anchor="middle">MN</text>
<circle cx="1657" cy="8.6" r="3.9" fill="#F0F6FF" stroke="#2C5CC8" stroke-width="1.7"/>
<path d="M1654.2 11.6 L1649.2 16.4" stroke="#2C5CC8" stroke-width="2.2" stroke-linecap="round"/>
<path d="M1673.5 13.5 a5 4.2 0 1 1 5 4.2 l-3.2 2 l0.6 -2.6 a5 4 0 0 1 -2.4 -3.6 z" fill="#E4E4E4" stroke="#B0B0B0" stroke-width="0.8"/>
<circle cx="1686.8" cy="8.8" r="8.2" fill="#E03020"/>
<circle cx="1686.8" cy="8.8" r="7.4" fill="none" stroke="#F06050" stroke-width="0.8"/>
<text x="1686.8" y="13.2" font-size="12.5" fill="#FFFFFF" text-anchor="middle">1</text>
</g>
</svg>
</body></html>
